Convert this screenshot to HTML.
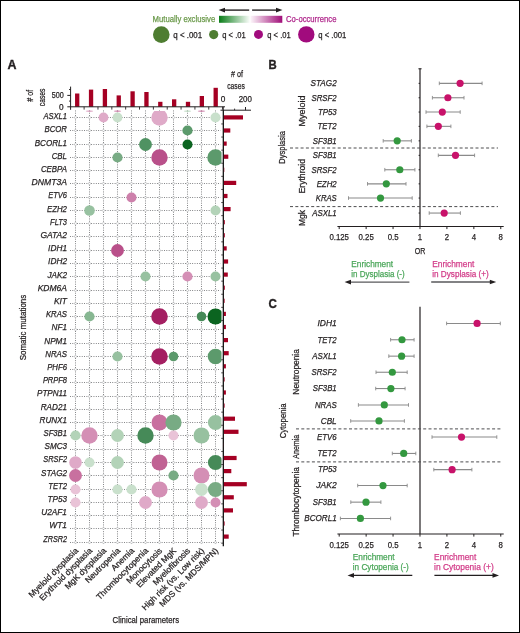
<!DOCTYPE html><html><head><meta charset="utf-8"><style>html,body{margin:0;padding:0;background:#fff;}svg{display:block;will-change:transform;}text{font-family:"Liberation Sans", sans-serif;}</style></head><body>
<svg width="520" height="633" viewBox="0 0 520 633">
<defs>
<linearGradient id="lgg" x1="0" x2="1" y1="0" y2="0"><stop offset="0" stop-color="#0a7d18"/><stop offset="1" stop-color="#fbfdfb"/></linearGradient>
<linearGradient id="lgm" x1="0" x2="1" y1="0" y2="0"><stop offset="0" stop-color="#fdf7fb"/><stop offset="1" stop-color="#a00d78"/></linearGradient>
<clipPath id="pc"><rect x="60" y="111.1" width="161.5" height="445"/></clipPath>
</defs>
<rect x="0" y="0" width="520" height="633" fill="#fff"/>
<line x1="223.5" y1="10.1" x2="249.2" y2="10.1" stroke="#231f20" stroke-width="1.4"/>
<path d="M218.6 10.1 L225 7.8 L225 12.4 Z" fill="#231f20"/>
<line x1="252.1" y1="10.1" x2="277.6" y2="10.1" stroke="#231f20" stroke-width="1.4"/>
<path d="M282.5 10.1 L276 7.8 L276 12.4 Z" fill="#231f20"/>
<rect x="219" y="15.8" width="30.9" height="7.0" fill="url(#lgg)"/>
<rect x="250.4" y="15.8" width="31.9" height="7.0" fill="url(#lgm)"/>
<text x="152.6" y="22.0" font-size="8.6" text-anchor="start" fill="#6b9a4b" font-weight="normal" textLength="62.6" lengthAdjust="spacingAndGlyphs" stroke="#6b9a4b" stroke-width="0.25">Mutually exclusive</text>
<text x="286.0" y="22.0" font-size="8.6" text-anchor="start" fill="#b0288c" font-weight="normal" textLength="50.4" lengthAdjust="spacingAndGlyphs" stroke="#b0288c" stroke-width="0.25">Co-occurrence</text>
<circle cx="161.3" cy="34.6" r="8.3" fill="#4e7d31"/>
<text x="173.3" y="37.6" font-size="9.0" text-anchor="start" fill="#231f20" font-weight="normal" textLength="28.8" lengthAdjust="spacingAndGlyphs" stroke="#231f20" stroke-width="0.25">q &lt; .001</text>
<circle cx="213.7" cy="34.6" r="4.6" fill="#4e7d31"/>
<text x="222.3" y="37.6" font-size="9.0" text-anchor="start" fill="#231f20" font-weight="normal" textLength="23.4" lengthAdjust="spacingAndGlyphs" stroke="#231f20" stroke-width="0.25">q &lt; .01</text>
<circle cx="258.5" cy="34.4" r="4.5" fill="#a10b7d"/>
<text x="267.3" y="37.6" font-size="9.0" text-anchor="start" fill="#231f20" font-weight="normal" textLength="23.4" lengthAdjust="spacingAndGlyphs" stroke="#231f20" stroke-width="0.25">q &lt; .01</text>
<circle cx="306.3" cy="34.4" r="8.2" fill="#a10b7d"/>
<text x="318.3" y="37.6" font-size="9.0" text-anchor="start" fill="#231f20" font-weight="normal" textLength="28.0" lengthAdjust="spacingAndGlyphs" stroke="#231f20" stroke-width="0.25">q &lt; .001</text>
<text x="7.4" y="68.7" font-size="12.6" text-anchor="start" fill="#231f20" font-weight="bold" textLength="9.0" lengthAdjust="spacingAndGlyphs" stroke="#231f20" stroke-width="0.35">A</text>
<line x1="70.0" y1="117.5" x2="220.6" y2="117.5" stroke="#68696b" stroke-width="0.9" stroke-dasharray="0.9 1.45"/>
<line x1="70.0" y1="130.5" x2="220.6" y2="130.5" stroke="#68696b" stroke-width="0.9" stroke-dasharray="0.9 1.45"/>
<line x1="70.0" y1="144.5" x2="220.6" y2="144.5" stroke="#68696b" stroke-width="0.9" stroke-dasharray="0.9 1.45"/>
<line x1="70.0" y1="157.5" x2="220.6" y2="157.5" stroke="#68696b" stroke-width="0.9" stroke-dasharray="0.9 1.45"/>
<line x1="70.0" y1="170.5" x2="220.6" y2="170.5" stroke="#68696b" stroke-width="0.9" stroke-dasharray="0.9 1.45"/>
<line x1="70.0" y1="183.5" x2="220.6" y2="183.5" stroke="#68696b" stroke-width="0.9" stroke-dasharray="0.9 1.45"/>
<line x1="70.0" y1="197.5" x2="220.6" y2="197.5" stroke="#68696b" stroke-width="0.9" stroke-dasharray="0.9 1.45"/>
<line x1="70.0" y1="210.5" x2="220.6" y2="210.5" stroke="#68696b" stroke-width="0.9" stroke-dasharray="0.9 1.45"/>
<line x1="70.0" y1="223.5" x2="220.6" y2="223.5" stroke="#68696b" stroke-width="0.9" stroke-dasharray="0.9 1.45"/>
<line x1="70.0" y1="236.5" x2="220.6" y2="236.5" stroke="#68696b" stroke-width="0.9" stroke-dasharray="0.9 1.45"/>
<line x1="70.0" y1="250.5" x2="220.6" y2="250.5" stroke="#68696b" stroke-width="0.9" stroke-dasharray="0.9 1.45"/>
<line x1="70.0" y1="263.5" x2="220.6" y2="263.5" stroke="#68696b" stroke-width="0.9" stroke-dasharray="0.9 1.45"/>
<line x1="70.0" y1="276.5" x2="220.6" y2="276.5" stroke="#68696b" stroke-width="0.9" stroke-dasharray="0.9 1.45"/>
<line x1="70.0" y1="290.5" x2="220.6" y2="290.5" stroke="#68696b" stroke-width="0.9" stroke-dasharray="0.9 1.45"/>
<line x1="70.0" y1="303.5" x2="220.6" y2="303.5" stroke="#68696b" stroke-width="0.9" stroke-dasharray="0.9 1.45"/>
<line x1="70.0" y1="316.5" x2="220.6" y2="316.5" stroke="#68696b" stroke-width="0.9" stroke-dasharray="0.9 1.45"/>
<line x1="70.0" y1="329.5" x2="220.6" y2="329.5" stroke="#68696b" stroke-width="0.9" stroke-dasharray="0.9 1.45"/>
<line x1="70.0" y1="343.5" x2="220.6" y2="343.5" stroke="#68696b" stroke-width="0.9" stroke-dasharray="0.9 1.45"/>
<line x1="70.0" y1="356.5" x2="220.6" y2="356.5" stroke="#68696b" stroke-width="0.9" stroke-dasharray="0.9 1.45"/>
<line x1="70.0" y1="369.5" x2="220.6" y2="369.5" stroke="#68696b" stroke-width="0.9" stroke-dasharray="0.9 1.45"/>
<line x1="70.0" y1="382.5" x2="220.6" y2="382.5" stroke="#68696b" stroke-width="0.9" stroke-dasharray="0.9 1.45"/>
<line x1="70.0" y1="396.5" x2="220.6" y2="396.5" stroke="#68696b" stroke-width="0.9" stroke-dasharray="0.9 1.45"/>
<line x1="70.0" y1="409.5" x2="220.6" y2="409.5" stroke="#68696b" stroke-width="0.9" stroke-dasharray="0.9 1.45"/>
<line x1="70.0" y1="422.5" x2="220.6" y2="422.5" stroke="#68696b" stroke-width="0.9" stroke-dasharray="0.9 1.45"/>
<line x1="70.0" y1="435.5" x2="220.6" y2="435.5" stroke="#68696b" stroke-width="0.9" stroke-dasharray="0.9 1.45"/>
<line x1="70.0" y1="449.5" x2="220.6" y2="449.5" stroke="#68696b" stroke-width="0.9" stroke-dasharray="0.9 1.45"/>
<line x1="70.0" y1="462.5" x2="220.6" y2="462.5" stroke="#68696b" stroke-width="0.9" stroke-dasharray="0.9 1.45"/>
<line x1="70.0" y1="475.5" x2="220.6" y2="475.5" stroke="#68696b" stroke-width="0.9" stroke-dasharray="0.9 1.45"/>
<line x1="70.0" y1="489.5" x2="220.6" y2="489.5" stroke="#68696b" stroke-width="0.9" stroke-dasharray="0.9 1.45"/>
<line x1="70.0" y1="502.5" x2="220.6" y2="502.5" stroke="#68696b" stroke-width="0.9" stroke-dasharray="0.9 1.45"/>
<line x1="70.0" y1="515.5" x2="220.6" y2="515.5" stroke="#68696b" stroke-width="0.9" stroke-dasharray="0.9 1.45"/>
<line x1="70.0" y1="528.5" x2="220.6" y2="528.5" stroke="#68696b" stroke-width="0.9" stroke-dasharray="0.9 1.45"/>
<line x1="70.0" y1="542.5" x2="220.6" y2="542.5" stroke="#68696b" stroke-width="0.9" stroke-dasharray="0.9 1.45"/>
<line x1="75.5" y1="110.5" x2="75.5" y2="544.2" stroke="#68696b" stroke-width="0.9" stroke-dasharray="0.9 1.35"/>
<line x1="89.5" y1="110.5" x2="89.5" y2="544.2" stroke="#68696b" stroke-width="0.9" stroke-dasharray="0.9 1.35"/>
<line x1="103.5" y1="110.5" x2="103.5" y2="544.2" stroke="#68696b" stroke-width="0.9" stroke-dasharray="0.9 1.35"/>
<line x1="117.5" y1="110.5" x2="117.5" y2="544.2" stroke="#68696b" stroke-width="0.9" stroke-dasharray="0.9 1.35"/>
<line x1="131.5" y1="110.5" x2="131.5" y2="544.2" stroke="#68696b" stroke-width="0.9" stroke-dasharray="0.9 1.35"/>
<line x1="145.5" y1="110.5" x2="145.5" y2="544.2" stroke="#68696b" stroke-width="0.9" stroke-dasharray="0.9 1.35"/>
<line x1="159.5" y1="110.5" x2="159.5" y2="544.2" stroke="#68696b" stroke-width="0.9" stroke-dasharray="0.9 1.35"/>
<line x1="173.5" y1="110.5" x2="173.5" y2="544.2" stroke="#68696b" stroke-width="0.9" stroke-dasharray="0.9 1.35"/>
<line x1="187.5" y1="110.5" x2="187.5" y2="544.2" stroke="#68696b" stroke-width="0.9" stroke-dasharray="0.9 1.35"/>
<line x1="201.5" y1="110.5" x2="201.5" y2="544.2" stroke="#68696b" stroke-width="0.9" stroke-dasharray="0.9 1.35"/>
<line x1="215.5" y1="110.5" x2="215.5" y2="544.2" stroke="#68696b" stroke-width="0.9" stroke-dasharray="0.9 1.35"/>
<circle cx="75.50" cy="117.50" r="1.05" fill="#fff" stroke="#939598" stroke-width="0.4"/>
<circle cx="89.50" cy="117.50" r="1.05" fill="#fff" stroke="#939598" stroke-width="0.4"/>
<circle cx="103.50" cy="117.50" r="1.05" fill="#fff" stroke="#939598" stroke-width="0.4"/>
<circle cx="117.50" cy="117.50" r="1.05" fill="#fff" stroke="#939598" stroke-width="0.4"/>
<circle cx="131.50" cy="117.50" r="1.05" fill="#fff" stroke="#939598" stroke-width="0.4"/>
<circle cx="145.50" cy="117.50" r="1.05" fill="#fff" stroke="#939598" stroke-width="0.4"/>
<circle cx="159.50" cy="117.50" r="1.05" fill="#fff" stroke="#939598" stroke-width="0.4"/>
<circle cx="173.50" cy="117.50" r="1.05" fill="#fff" stroke="#939598" stroke-width="0.4"/>
<circle cx="187.50" cy="117.50" r="1.05" fill="#fff" stroke="#939598" stroke-width="0.4"/>
<circle cx="201.50" cy="117.50" r="1.05" fill="#fff" stroke="#939598" stroke-width="0.4"/>
<circle cx="215.50" cy="117.50" r="1.05" fill="#fff" stroke="#939598" stroke-width="0.4"/>
<circle cx="75.50" cy="130.50" r="1.05" fill="#fff" stroke="#939598" stroke-width="0.4"/>
<circle cx="89.50" cy="130.50" r="1.05" fill="#fff" stroke="#939598" stroke-width="0.4"/>
<circle cx="103.50" cy="130.50" r="1.05" fill="#fff" stroke="#939598" stroke-width="0.4"/>
<circle cx="117.50" cy="130.50" r="1.05" fill="#fff" stroke="#939598" stroke-width="0.4"/>
<circle cx="131.50" cy="130.50" r="1.05" fill="#fff" stroke="#939598" stroke-width="0.4"/>
<circle cx="145.50" cy="130.50" r="1.05" fill="#fff" stroke="#939598" stroke-width="0.4"/>
<circle cx="159.50" cy="130.50" r="1.05" fill="#fff" stroke="#939598" stroke-width="0.4"/>
<circle cx="173.50" cy="130.50" r="1.05" fill="#fff" stroke="#939598" stroke-width="0.4"/>
<circle cx="187.50" cy="130.50" r="1.05" fill="#fff" stroke="#939598" stroke-width="0.4"/>
<circle cx="201.50" cy="130.50" r="1.05" fill="#fff" stroke="#939598" stroke-width="0.4"/>
<circle cx="215.50" cy="130.50" r="1.05" fill="#fff" stroke="#939598" stroke-width="0.4"/>
<circle cx="75.50" cy="144.50" r="1.05" fill="#fff" stroke="#939598" stroke-width="0.4"/>
<circle cx="89.50" cy="144.50" r="1.05" fill="#fff" stroke="#939598" stroke-width="0.4"/>
<circle cx="103.50" cy="144.50" r="1.05" fill="#fff" stroke="#939598" stroke-width="0.4"/>
<circle cx="117.50" cy="144.50" r="1.05" fill="#fff" stroke="#939598" stroke-width="0.4"/>
<circle cx="131.50" cy="144.50" r="1.05" fill="#fff" stroke="#939598" stroke-width="0.4"/>
<circle cx="145.50" cy="144.50" r="1.05" fill="#fff" stroke="#939598" stroke-width="0.4"/>
<circle cx="159.50" cy="144.50" r="1.05" fill="#fff" stroke="#939598" stroke-width="0.4"/>
<circle cx="173.50" cy="144.50" r="1.05" fill="#fff" stroke="#939598" stroke-width="0.4"/>
<circle cx="187.50" cy="144.50" r="1.05" fill="#fff" stroke="#939598" stroke-width="0.4"/>
<circle cx="201.50" cy="144.50" r="1.05" fill="#fff" stroke="#939598" stroke-width="0.4"/>
<circle cx="215.50" cy="144.50" r="1.05" fill="#fff" stroke="#939598" stroke-width="0.4"/>
<circle cx="75.50" cy="157.50" r="1.05" fill="#fff" stroke="#939598" stroke-width="0.4"/>
<circle cx="89.50" cy="157.50" r="1.05" fill="#fff" stroke="#939598" stroke-width="0.4"/>
<circle cx="103.50" cy="157.50" r="1.05" fill="#fff" stroke="#939598" stroke-width="0.4"/>
<circle cx="117.50" cy="157.50" r="1.05" fill="#fff" stroke="#939598" stroke-width="0.4"/>
<circle cx="131.50" cy="157.50" r="1.05" fill="#fff" stroke="#939598" stroke-width="0.4"/>
<circle cx="145.50" cy="157.50" r="1.05" fill="#fff" stroke="#939598" stroke-width="0.4"/>
<circle cx="159.50" cy="157.50" r="1.05" fill="#fff" stroke="#939598" stroke-width="0.4"/>
<circle cx="173.50" cy="157.50" r="1.05" fill="#fff" stroke="#939598" stroke-width="0.4"/>
<circle cx="187.50" cy="157.50" r="1.05" fill="#fff" stroke="#939598" stroke-width="0.4"/>
<circle cx="201.50" cy="157.50" r="1.05" fill="#fff" stroke="#939598" stroke-width="0.4"/>
<circle cx="215.50" cy="157.50" r="1.05" fill="#fff" stroke="#939598" stroke-width="0.4"/>
<circle cx="75.50" cy="170.50" r="1.05" fill="#fff" stroke="#939598" stroke-width="0.4"/>
<circle cx="89.50" cy="170.50" r="1.05" fill="#fff" stroke="#939598" stroke-width="0.4"/>
<circle cx="103.50" cy="170.50" r="1.05" fill="#fff" stroke="#939598" stroke-width="0.4"/>
<circle cx="117.50" cy="170.50" r="1.05" fill="#fff" stroke="#939598" stroke-width="0.4"/>
<circle cx="131.50" cy="170.50" r="1.05" fill="#fff" stroke="#939598" stroke-width="0.4"/>
<circle cx="145.50" cy="170.50" r="1.05" fill="#fff" stroke="#939598" stroke-width="0.4"/>
<circle cx="159.50" cy="170.50" r="1.05" fill="#fff" stroke="#939598" stroke-width="0.4"/>
<circle cx="173.50" cy="170.50" r="1.05" fill="#fff" stroke="#939598" stroke-width="0.4"/>
<circle cx="187.50" cy="170.50" r="1.05" fill="#fff" stroke="#939598" stroke-width="0.4"/>
<circle cx="201.50" cy="170.50" r="1.05" fill="#fff" stroke="#939598" stroke-width="0.4"/>
<circle cx="215.50" cy="170.50" r="1.05" fill="#fff" stroke="#939598" stroke-width="0.4"/>
<circle cx="75.50" cy="183.50" r="1.05" fill="#fff" stroke="#939598" stroke-width="0.4"/>
<circle cx="89.50" cy="183.50" r="1.05" fill="#fff" stroke="#939598" stroke-width="0.4"/>
<circle cx="103.50" cy="183.50" r="1.05" fill="#fff" stroke="#939598" stroke-width="0.4"/>
<circle cx="117.50" cy="183.50" r="1.05" fill="#fff" stroke="#939598" stroke-width="0.4"/>
<circle cx="131.50" cy="183.50" r="1.05" fill="#fff" stroke="#939598" stroke-width="0.4"/>
<circle cx="145.50" cy="183.50" r="1.05" fill="#fff" stroke="#939598" stroke-width="0.4"/>
<circle cx="159.50" cy="183.50" r="1.05" fill="#fff" stroke="#939598" stroke-width="0.4"/>
<circle cx="173.50" cy="183.50" r="1.05" fill="#fff" stroke="#939598" stroke-width="0.4"/>
<circle cx="187.50" cy="183.50" r="1.05" fill="#fff" stroke="#939598" stroke-width="0.4"/>
<circle cx="201.50" cy="183.50" r="1.05" fill="#fff" stroke="#939598" stroke-width="0.4"/>
<circle cx="215.50" cy="183.50" r="1.05" fill="#fff" stroke="#939598" stroke-width="0.4"/>
<circle cx="75.50" cy="197.50" r="1.05" fill="#fff" stroke="#939598" stroke-width="0.4"/>
<circle cx="89.50" cy="197.50" r="1.05" fill="#fff" stroke="#939598" stroke-width="0.4"/>
<circle cx="103.50" cy="197.50" r="1.05" fill="#fff" stroke="#939598" stroke-width="0.4"/>
<circle cx="117.50" cy="197.50" r="1.05" fill="#fff" stroke="#939598" stroke-width="0.4"/>
<circle cx="131.50" cy="197.50" r="1.05" fill="#fff" stroke="#939598" stroke-width="0.4"/>
<circle cx="145.50" cy="197.50" r="1.05" fill="#fff" stroke="#939598" stroke-width="0.4"/>
<circle cx="159.50" cy="197.50" r="1.05" fill="#fff" stroke="#939598" stroke-width="0.4"/>
<circle cx="173.50" cy="197.50" r="1.05" fill="#fff" stroke="#939598" stroke-width="0.4"/>
<circle cx="187.50" cy="197.50" r="1.05" fill="#fff" stroke="#939598" stroke-width="0.4"/>
<circle cx="201.50" cy="197.50" r="1.05" fill="#fff" stroke="#939598" stroke-width="0.4"/>
<circle cx="215.50" cy="197.50" r="1.05" fill="#fff" stroke="#939598" stroke-width="0.4"/>
<circle cx="75.50" cy="210.50" r="1.05" fill="#fff" stroke="#939598" stroke-width="0.4"/>
<circle cx="89.50" cy="210.50" r="1.05" fill="#fff" stroke="#939598" stroke-width="0.4"/>
<circle cx="103.50" cy="210.50" r="1.05" fill="#fff" stroke="#939598" stroke-width="0.4"/>
<circle cx="117.50" cy="210.50" r="1.05" fill="#fff" stroke="#939598" stroke-width="0.4"/>
<circle cx="131.50" cy="210.50" r="1.05" fill="#fff" stroke="#939598" stroke-width="0.4"/>
<circle cx="145.50" cy="210.50" r="1.05" fill="#fff" stroke="#939598" stroke-width="0.4"/>
<circle cx="159.50" cy="210.50" r="1.05" fill="#fff" stroke="#939598" stroke-width="0.4"/>
<circle cx="173.50" cy="210.50" r="1.05" fill="#fff" stroke="#939598" stroke-width="0.4"/>
<circle cx="187.50" cy="210.50" r="1.05" fill="#fff" stroke="#939598" stroke-width="0.4"/>
<circle cx="201.50" cy="210.50" r="1.05" fill="#fff" stroke="#939598" stroke-width="0.4"/>
<circle cx="215.50" cy="210.50" r="1.05" fill="#fff" stroke="#939598" stroke-width="0.4"/>
<circle cx="75.50" cy="223.50" r="1.05" fill="#fff" stroke="#939598" stroke-width="0.4"/>
<circle cx="89.50" cy="223.50" r="1.05" fill="#fff" stroke="#939598" stroke-width="0.4"/>
<circle cx="103.50" cy="223.50" r="1.05" fill="#fff" stroke="#939598" stroke-width="0.4"/>
<circle cx="117.50" cy="223.50" r="1.05" fill="#fff" stroke="#939598" stroke-width="0.4"/>
<circle cx="131.50" cy="223.50" r="1.05" fill="#fff" stroke="#939598" stroke-width="0.4"/>
<circle cx="145.50" cy="223.50" r="1.05" fill="#fff" stroke="#939598" stroke-width="0.4"/>
<circle cx="159.50" cy="223.50" r="1.05" fill="#fff" stroke="#939598" stroke-width="0.4"/>
<circle cx="173.50" cy="223.50" r="1.05" fill="#fff" stroke="#939598" stroke-width="0.4"/>
<circle cx="187.50" cy="223.50" r="1.05" fill="#fff" stroke="#939598" stroke-width="0.4"/>
<circle cx="201.50" cy="223.50" r="1.05" fill="#fff" stroke="#939598" stroke-width="0.4"/>
<circle cx="215.50" cy="223.50" r="1.05" fill="#fff" stroke="#939598" stroke-width="0.4"/>
<circle cx="75.50" cy="236.50" r="1.05" fill="#fff" stroke="#939598" stroke-width="0.4"/>
<circle cx="89.50" cy="236.50" r="1.05" fill="#fff" stroke="#939598" stroke-width="0.4"/>
<circle cx="103.50" cy="236.50" r="1.05" fill="#fff" stroke="#939598" stroke-width="0.4"/>
<circle cx="117.50" cy="236.50" r="1.05" fill="#fff" stroke="#939598" stroke-width="0.4"/>
<circle cx="131.50" cy="236.50" r="1.05" fill="#fff" stroke="#939598" stroke-width="0.4"/>
<circle cx="145.50" cy="236.50" r="1.05" fill="#fff" stroke="#939598" stroke-width="0.4"/>
<circle cx="159.50" cy="236.50" r="1.05" fill="#fff" stroke="#939598" stroke-width="0.4"/>
<circle cx="173.50" cy="236.50" r="1.05" fill="#fff" stroke="#939598" stroke-width="0.4"/>
<circle cx="187.50" cy="236.50" r="1.05" fill="#fff" stroke="#939598" stroke-width="0.4"/>
<circle cx="201.50" cy="236.50" r="1.05" fill="#fff" stroke="#939598" stroke-width="0.4"/>
<circle cx="215.50" cy="236.50" r="1.05" fill="#fff" stroke="#939598" stroke-width="0.4"/>
<circle cx="75.50" cy="250.50" r="1.05" fill="#fff" stroke="#939598" stroke-width="0.4"/>
<circle cx="89.50" cy="250.50" r="1.05" fill="#fff" stroke="#939598" stroke-width="0.4"/>
<circle cx="103.50" cy="250.50" r="1.05" fill="#fff" stroke="#939598" stroke-width="0.4"/>
<circle cx="117.50" cy="250.50" r="1.05" fill="#fff" stroke="#939598" stroke-width="0.4"/>
<circle cx="131.50" cy="250.50" r="1.05" fill="#fff" stroke="#939598" stroke-width="0.4"/>
<circle cx="145.50" cy="250.50" r="1.05" fill="#fff" stroke="#939598" stroke-width="0.4"/>
<circle cx="159.50" cy="250.50" r="1.05" fill="#fff" stroke="#939598" stroke-width="0.4"/>
<circle cx="173.50" cy="250.50" r="1.05" fill="#fff" stroke="#939598" stroke-width="0.4"/>
<circle cx="187.50" cy="250.50" r="1.05" fill="#fff" stroke="#939598" stroke-width="0.4"/>
<circle cx="201.50" cy="250.50" r="1.05" fill="#fff" stroke="#939598" stroke-width="0.4"/>
<circle cx="215.50" cy="250.50" r="1.05" fill="#fff" stroke="#939598" stroke-width="0.4"/>
<circle cx="75.50" cy="263.50" r="1.05" fill="#fff" stroke="#939598" stroke-width="0.4"/>
<circle cx="89.50" cy="263.50" r="1.05" fill="#fff" stroke="#939598" stroke-width="0.4"/>
<circle cx="103.50" cy="263.50" r="1.05" fill="#fff" stroke="#939598" stroke-width="0.4"/>
<circle cx="117.50" cy="263.50" r="1.05" fill="#fff" stroke="#939598" stroke-width="0.4"/>
<circle cx="131.50" cy="263.50" r="1.05" fill="#fff" stroke="#939598" stroke-width="0.4"/>
<circle cx="145.50" cy="263.50" r="1.05" fill="#fff" stroke="#939598" stroke-width="0.4"/>
<circle cx="159.50" cy="263.50" r="1.05" fill="#fff" stroke="#939598" stroke-width="0.4"/>
<circle cx="173.50" cy="263.50" r="1.05" fill="#fff" stroke="#939598" stroke-width="0.4"/>
<circle cx="187.50" cy="263.50" r="1.05" fill="#fff" stroke="#939598" stroke-width="0.4"/>
<circle cx="201.50" cy="263.50" r="1.05" fill="#fff" stroke="#939598" stroke-width="0.4"/>
<circle cx="215.50" cy="263.50" r="1.05" fill="#fff" stroke="#939598" stroke-width="0.4"/>
<circle cx="75.50" cy="276.50" r="1.05" fill="#fff" stroke="#939598" stroke-width="0.4"/>
<circle cx="89.50" cy="276.50" r="1.05" fill="#fff" stroke="#939598" stroke-width="0.4"/>
<circle cx="103.50" cy="276.50" r="1.05" fill="#fff" stroke="#939598" stroke-width="0.4"/>
<circle cx="117.50" cy="276.50" r="1.05" fill="#fff" stroke="#939598" stroke-width="0.4"/>
<circle cx="131.50" cy="276.50" r="1.05" fill="#fff" stroke="#939598" stroke-width="0.4"/>
<circle cx="145.50" cy="276.50" r="1.05" fill="#fff" stroke="#939598" stroke-width="0.4"/>
<circle cx="159.50" cy="276.50" r="1.05" fill="#fff" stroke="#939598" stroke-width="0.4"/>
<circle cx="173.50" cy="276.50" r="1.05" fill="#fff" stroke="#939598" stroke-width="0.4"/>
<circle cx="187.50" cy="276.50" r="1.05" fill="#fff" stroke="#939598" stroke-width="0.4"/>
<circle cx="201.50" cy="276.50" r="1.05" fill="#fff" stroke="#939598" stroke-width="0.4"/>
<circle cx="215.50" cy="276.50" r="1.05" fill="#fff" stroke="#939598" stroke-width="0.4"/>
<circle cx="75.50" cy="290.50" r="1.05" fill="#fff" stroke="#939598" stroke-width="0.4"/>
<circle cx="89.50" cy="290.50" r="1.05" fill="#fff" stroke="#939598" stroke-width="0.4"/>
<circle cx="103.50" cy="290.50" r="1.05" fill="#fff" stroke="#939598" stroke-width="0.4"/>
<circle cx="117.50" cy="290.50" r="1.05" fill="#fff" stroke="#939598" stroke-width="0.4"/>
<circle cx="131.50" cy="290.50" r="1.05" fill="#fff" stroke="#939598" stroke-width="0.4"/>
<circle cx="145.50" cy="290.50" r="1.05" fill="#fff" stroke="#939598" stroke-width="0.4"/>
<circle cx="159.50" cy="290.50" r="1.05" fill="#fff" stroke="#939598" stroke-width="0.4"/>
<circle cx="173.50" cy="290.50" r="1.05" fill="#fff" stroke="#939598" stroke-width="0.4"/>
<circle cx="187.50" cy="290.50" r="1.05" fill="#fff" stroke="#939598" stroke-width="0.4"/>
<circle cx="201.50" cy="290.50" r="1.05" fill="#fff" stroke="#939598" stroke-width="0.4"/>
<circle cx="215.50" cy="290.50" r="1.05" fill="#fff" stroke="#939598" stroke-width="0.4"/>
<circle cx="75.50" cy="303.50" r="1.05" fill="#fff" stroke="#939598" stroke-width="0.4"/>
<circle cx="89.50" cy="303.50" r="1.05" fill="#fff" stroke="#939598" stroke-width="0.4"/>
<circle cx="103.50" cy="303.50" r="1.05" fill="#fff" stroke="#939598" stroke-width="0.4"/>
<circle cx="117.50" cy="303.50" r="1.05" fill="#fff" stroke="#939598" stroke-width="0.4"/>
<circle cx="131.50" cy="303.50" r="1.05" fill="#fff" stroke="#939598" stroke-width="0.4"/>
<circle cx="145.50" cy="303.50" r="1.05" fill="#fff" stroke="#939598" stroke-width="0.4"/>
<circle cx="159.50" cy="303.50" r="1.05" fill="#fff" stroke="#939598" stroke-width="0.4"/>
<circle cx="173.50" cy="303.50" r="1.05" fill="#fff" stroke="#939598" stroke-width="0.4"/>
<circle cx="187.50" cy="303.50" r="1.05" fill="#fff" stroke="#939598" stroke-width="0.4"/>
<circle cx="201.50" cy="303.50" r="1.05" fill="#fff" stroke="#939598" stroke-width="0.4"/>
<circle cx="215.50" cy="303.50" r="1.05" fill="#fff" stroke="#939598" stroke-width="0.4"/>
<circle cx="75.50" cy="316.50" r="1.05" fill="#fff" stroke="#939598" stroke-width="0.4"/>
<circle cx="89.50" cy="316.50" r="1.05" fill="#fff" stroke="#939598" stroke-width="0.4"/>
<circle cx="103.50" cy="316.50" r="1.05" fill="#fff" stroke="#939598" stroke-width="0.4"/>
<circle cx="117.50" cy="316.50" r="1.05" fill="#fff" stroke="#939598" stroke-width="0.4"/>
<circle cx="131.50" cy="316.50" r="1.05" fill="#fff" stroke="#939598" stroke-width="0.4"/>
<circle cx="145.50" cy="316.50" r="1.05" fill="#fff" stroke="#939598" stroke-width="0.4"/>
<circle cx="159.50" cy="316.50" r="1.05" fill="#fff" stroke="#939598" stroke-width="0.4"/>
<circle cx="173.50" cy="316.50" r="1.05" fill="#fff" stroke="#939598" stroke-width="0.4"/>
<circle cx="187.50" cy="316.50" r="1.05" fill="#fff" stroke="#939598" stroke-width="0.4"/>
<circle cx="201.50" cy="316.50" r="1.05" fill="#fff" stroke="#939598" stroke-width="0.4"/>
<circle cx="215.50" cy="316.50" r="1.05" fill="#fff" stroke="#939598" stroke-width="0.4"/>
<circle cx="75.50" cy="329.50" r="1.05" fill="#fff" stroke="#939598" stroke-width="0.4"/>
<circle cx="89.50" cy="329.50" r="1.05" fill="#fff" stroke="#939598" stroke-width="0.4"/>
<circle cx="103.50" cy="329.50" r="1.05" fill="#fff" stroke="#939598" stroke-width="0.4"/>
<circle cx="117.50" cy="329.50" r="1.05" fill="#fff" stroke="#939598" stroke-width="0.4"/>
<circle cx="131.50" cy="329.50" r="1.05" fill="#fff" stroke="#939598" stroke-width="0.4"/>
<circle cx="145.50" cy="329.50" r="1.05" fill="#fff" stroke="#939598" stroke-width="0.4"/>
<circle cx="159.50" cy="329.50" r="1.05" fill="#fff" stroke="#939598" stroke-width="0.4"/>
<circle cx="173.50" cy="329.50" r="1.05" fill="#fff" stroke="#939598" stroke-width="0.4"/>
<circle cx="187.50" cy="329.50" r="1.05" fill="#fff" stroke="#939598" stroke-width="0.4"/>
<circle cx="201.50" cy="329.50" r="1.05" fill="#fff" stroke="#939598" stroke-width="0.4"/>
<circle cx="215.50" cy="329.50" r="1.05" fill="#fff" stroke="#939598" stroke-width="0.4"/>
<circle cx="75.50" cy="343.50" r="1.05" fill="#fff" stroke="#939598" stroke-width="0.4"/>
<circle cx="89.50" cy="343.50" r="1.05" fill="#fff" stroke="#939598" stroke-width="0.4"/>
<circle cx="103.50" cy="343.50" r="1.05" fill="#fff" stroke="#939598" stroke-width="0.4"/>
<circle cx="117.50" cy="343.50" r="1.05" fill="#fff" stroke="#939598" stroke-width="0.4"/>
<circle cx="131.50" cy="343.50" r="1.05" fill="#fff" stroke="#939598" stroke-width="0.4"/>
<circle cx="145.50" cy="343.50" r="1.05" fill="#fff" stroke="#939598" stroke-width="0.4"/>
<circle cx="159.50" cy="343.50" r="1.05" fill="#fff" stroke="#939598" stroke-width="0.4"/>
<circle cx="173.50" cy="343.50" r="1.05" fill="#fff" stroke="#939598" stroke-width="0.4"/>
<circle cx="187.50" cy="343.50" r="1.05" fill="#fff" stroke="#939598" stroke-width="0.4"/>
<circle cx="201.50" cy="343.50" r="1.05" fill="#fff" stroke="#939598" stroke-width="0.4"/>
<circle cx="215.50" cy="343.50" r="1.05" fill="#fff" stroke="#939598" stroke-width="0.4"/>
<circle cx="75.50" cy="356.50" r="1.05" fill="#fff" stroke="#939598" stroke-width="0.4"/>
<circle cx="89.50" cy="356.50" r="1.05" fill="#fff" stroke="#939598" stroke-width="0.4"/>
<circle cx="103.50" cy="356.50" r="1.05" fill="#fff" stroke="#939598" stroke-width="0.4"/>
<circle cx="117.50" cy="356.50" r="1.05" fill="#fff" stroke="#939598" stroke-width="0.4"/>
<circle cx="131.50" cy="356.50" r="1.05" fill="#fff" stroke="#939598" stroke-width="0.4"/>
<circle cx="145.50" cy="356.50" r="1.05" fill="#fff" stroke="#939598" stroke-width="0.4"/>
<circle cx="159.50" cy="356.50" r="1.05" fill="#fff" stroke="#939598" stroke-width="0.4"/>
<circle cx="173.50" cy="356.50" r="1.05" fill="#fff" stroke="#939598" stroke-width="0.4"/>
<circle cx="187.50" cy="356.50" r="1.05" fill="#fff" stroke="#939598" stroke-width="0.4"/>
<circle cx="201.50" cy="356.50" r="1.05" fill="#fff" stroke="#939598" stroke-width="0.4"/>
<circle cx="215.50" cy="356.50" r="1.05" fill="#fff" stroke="#939598" stroke-width="0.4"/>
<circle cx="75.50" cy="369.50" r="1.05" fill="#fff" stroke="#939598" stroke-width="0.4"/>
<circle cx="89.50" cy="369.50" r="1.05" fill="#fff" stroke="#939598" stroke-width="0.4"/>
<circle cx="103.50" cy="369.50" r="1.05" fill="#fff" stroke="#939598" stroke-width="0.4"/>
<circle cx="117.50" cy="369.50" r="1.05" fill="#fff" stroke="#939598" stroke-width="0.4"/>
<circle cx="131.50" cy="369.50" r="1.05" fill="#fff" stroke="#939598" stroke-width="0.4"/>
<circle cx="145.50" cy="369.50" r="1.05" fill="#fff" stroke="#939598" stroke-width="0.4"/>
<circle cx="159.50" cy="369.50" r="1.05" fill="#fff" stroke="#939598" stroke-width="0.4"/>
<circle cx="173.50" cy="369.50" r="1.05" fill="#fff" stroke="#939598" stroke-width="0.4"/>
<circle cx="187.50" cy="369.50" r="1.05" fill="#fff" stroke="#939598" stroke-width="0.4"/>
<circle cx="201.50" cy="369.50" r="1.05" fill="#fff" stroke="#939598" stroke-width="0.4"/>
<circle cx="215.50" cy="369.50" r="1.05" fill="#fff" stroke="#939598" stroke-width="0.4"/>
<circle cx="75.50" cy="382.50" r="1.05" fill="#fff" stroke="#939598" stroke-width="0.4"/>
<circle cx="89.50" cy="382.50" r="1.05" fill="#fff" stroke="#939598" stroke-width="0.4"/>
<circle cx="103.50" cy="382.50" r="1.05" fill="#fff" stroke="#939598" stroke-width="0.4"/>
<circle cx="117.50" cy="382.50" r="1.05" fill="#fff" stroke="#939598" stroke-width="0.4"/>
<circle cx="131.50" cy="382.50" r="1.05" fill="#fff" stroke="#939598" stroke-width="0.4"/>
<circle cx="145.50" cy="382.50" r="1.05" fill="#fff" stroke="#939598" stroke-width="0.4"/>
<circle cx="159.50" cy="382.50" r="1.05" fill="#fff" stroke="#939598" stroke-width="0.4"/>
<circle cx="173.50" cy="382.50" r="1.05" fill="#fff" stroke="#939598" stroke-width="0.4"/>
<circle cx="187.50" cy="382.50" r="1.05" fill="#fff" stroke="#939598" stroke-width="0.4"/>
<circle cx="201.50" cy="382.50" r="1.05" fill="#fff" stroke="#939598" stroke-width="0.4"/>
<circle cx="215.50" cy="382.50" r="1.05" fill="#fff" stroke="#939598" stroke-width="0.4"/>
<circle cx="75.50" cy="396.50" r="1.05" fill="#fff" stroke="#939598" stroke-width="0.4"/>
<circle cx="89.50" cy="396.50" r="1.05" fill="#fff" stroke="#939598" stroke-width="0.4"/>
<circle cx="103.50" cy="396.50" r="1.05" fill="#fff" stroke="#939598" stroke-width="0.4"/>
<circle cx="117.50" cy="396.50" r="1.05" fill="#fff" stroke="#939598" stroke-width="0.4"/>
<circle cx="131.50" cy="396.50" r="1.05" fill="#fff" stroke="#939598" stroke-width="0.4"/>
<circle cx="145.50" cy="396.50" r="1.05" fill="#fff" stroke="#939598" stroke-width="0.4"/>
<circle cx="159.50" cy="396.50" r="1.05" fill="#fff" stroke="#939598" stroke-width="0.4"/>
<circle cx="173.50" cy="396.50" r="1.05" fill="#fff" stroke="#939598" stroke-width="0.4"/>
<circle cx="187.50" cy="396.50" r="1.05" fill="#fff" stroke="#939598" stroke-width="0.4"/>
<circle cx="201.50" cy="396.50" r="1.05" fill="#fff" stroke="#939598" stroke-width="0.4"/>
<circle cx="215.50" cy="396.50" r="1.05" fill="#fff" stroke="#939598" stroke-width="0.4"/>
<circle cx="75.50" cy="409.50" r="1.05" fill="#fff" stroke="#939598" stroke-width="0.4"/>
<circle cx="89.50" cy="409.50" r="1.05" fill="#fff" stroke="#939598" stroke-width="0.4"/>
<circle cx="103.50" cy="409.50" r="1.05" fill="#fff" stroke="#939598" stroke-width="0.4"/>
<circle cx="117.50" cy="409.50" r="1.05" fill="#fff" stroke="#939598" stroke-width="0.4"/>
<circle cx="131.50" cy="409.50" r="1.05" fill="#fff" stroke="#939598" stroke-width="0.4"/>
<circle cx="145.50" cy="409.50" r="1.05" fill="#fff" stroke="#939598" stroke-width="0.4"/>
<circle cx="159.50" cy="409.50" r="1.05" fill="#fff" stroke="#939598" stroke-width="0.4"/>
<circle cx="173.50" cy="409.50" r="1.05" fill="#fff" stroke="#939598" stroke-width="0.4"/>
<circle cx="187.50" cy="409.50" r="1.05" fill="#fff" stroke="#939598" stroke-width="0.4"/>
<circle cx="201.50" cy="409.50" r="1.05" fill="#fff" stroke="#939598" stroke-width="0.4"/>
<circle cx="215.50" cy="409.50" r="1.05" fill="#fff" stroke="#939598" stroke-width="0.4"/>
<circle cx="75.50" cy="422.50" r="1.05" fill="#fff" stroke="#939598" stroke-width="0.4"/>
<circle cx="89.50" cy="422.50" r="1.05" fill="#fff" stroke="#939598" stroke-width="0.4"/>
<circle cx="103.50" cy="422.50" r="1.05" fill="#fff" stroke="#939598" stroke-width="0.4"/>
<circle cx="117.50" cy="422.50" r="1.05" fill="#fff" stroke="#939598" stroke-width="0.4"/>
<circle cx="131.50" cy="422.50" r="1.05" fill="#fff" stroke="#939598" stroke-width="0.4"/>
<circle cx="145.50" cy="422.50" r="1.05" fill="#fff" stroke="#939598" stroke-width="0.4"/>
<circle cx="159.50" cy="422.50" r="1.05" fill="#fff" stroke="#939598" stroke-width="0.4"/>
<circle cx="173.50" cy="422.50" r="1.05" fill="#fff" stroke="#939598" stroke-width="0.4"/>
<circle cx="187.50" cy="422.50" r="1.05" fill="#fff" stroke="#939598" stroke-width="0.4"/>
<circle cx="201.50" cy="422.50" r="1.05" fill="#fff" stroke="#939598" stroke-width="0.4"/>
<circle cx="215.50" cy="422.50" r="1.05" fill="#fff" stroke="#939598" stroke-width="0.4"/>
<circle cx="75.50" cy="435.50" r="1.05" fill="#fff" stroke="#939598" stroke-width="0.4"/>
<circle cx="89.50" cy="435.50" r="1.05" fill="#fff" stroke="#939598" stroke-width="0.4"/>
<circle cx="103.50" cy="435.50" r="1.05" fill="#fff" stroke="#939598" stroke-width="0.4"/>
<circle cx="117.50" cy="435.50" r="1.05" fill="#fff" stroke="#939598" stroke-width="0.4"/>
<circle cx="131.50" cy="435.50" r="1.05" fill="#fff" stroke="#939598" stroke-width="0.4"/>
<circle cx="145.50" cy="435.50" r="1.05" fill="#fff" stroke="#939598" stroke-width="0.4"/>
<circle cx="159.50" cy="435.50" r="1.05" fill="#fff" stroke="#939598" stroke-width="0.4"/>
<circle cx="173.50" cy="435.50" r="1.05" fill="#fff" stroke="#939598" stroke-width="0.4"/>
<circle cx="187.50" cy="435.50" r="1.05" fill="#fff" stroke="#939598" stroke-width="0.4"/>
<circle cx="201.50" cy="435.50" r="1.05" fill="#fff" stroke="#939598" stroke-width="0.4"/>
<circle cx="215.50" cy="435.50" r="1.05" fill="#fff" stroke="#939598" stroke-width="0.4"/>
<circle cx="75.50" cy="449.50" r="1.05" fill="#fff" stroke="#939598" stroke-width="0.4"/>
<circle cx="89.50" cy="449.50" r="1.05" fill="#fff" stroke="#939598" stroke-width="0.4"/>
<circle cx="103.50" cy="449.50" r="1.05" fill="#fff" stroke="#939598" stroke-width="0.4"/>
<circle cx="117.50" cy="449.50" r="1.05" fill="#fff" stroke="#939598" stroke-width="0.4"/>
<circle cx="131.50" cy="449.50" r="1.05" fill="#fff" stroke="#939598" stroke-width="0.4"/>
<circle cx="145.50" cy="449.50" r="1.05" fill="#fff" stroke="#939598" stroke-width="0.4"/>
<circle cx="159.50" cy="449.50" r="1.05" fill="#fff" stroke="#939598" stroke-width="0.4"/>
<circle cx="173.50" cy="449.50" r="1.05" fill="#fff" stroke="#939598" stroke-width="0.4"/>
<circle cx="187.50" cy="449.50" r="1.05" fill="#fff" stroke="#939598" stroke-width="0.4"/>
<circle cx="201.50" cy="449.50" r="1.05" fill="#fff" stroke="#939598" stroke-width="0.4"/>
<circle cx="215.50" cy="449.50" r="1.05" fill="#fff" stroke="#939598" stroke-width="0.4"/>
<circle cx="75.50" cy="462.50" r="1.05" fill="#fff" stroke="#939598" stroke-width="0.4"/>
<circle cx="89.50" cy="462.50" r="1.05" fill="#fff" stroke="#939598" stroke-width="0.4"/>
<circle cx="103.50" cy="462.50" r="1.05" fill="#fff" stroke="#939598" stroke-width="0.4"/>
<circle cx="117.50" cy="462.50" r="1.05" fill="#fff" stroke="#939598" stroke-width="0.4"/>
<circle cx="131.50" cy="462.50" r="1.05" fill="#fff" stroke="#939598" stroke-width="0.4"/>
<circle cx="145.50" cy="462.50" r="1.05" fill="#fff" stroke="#939598" stroke-width="0.4"/>
<circle cx="159.50" cy="462.50" r="1.05" fill="#fff" stroke="#939598" stroke-width="0.4"/>
<circle cx="173.50" cy="462.50" r="1.05" fill="#fff" stroke="#939598" stroke-width="0.4"/>
<circle cx="187.50" cy="462.50" r="1.05" fill="#fff" stroke="#939598" stroke-width="0.4"/>
<circle cx="201.50" cy="462.50" r="1.05" fill="#fff" stroke="#939598" stroke-width="0.4"/>
<circle cx="215.50" cy="462.50" r="1.05" fill="#fff" stroke="#939598" stroke-width="0.4"/>
<circle cx="75.50" cy="475.50" r="1.05" fill="#fff" stroke="#939598" stroke-width="0.4"/>
<circle cx="89.50" cy="475.50" r="1.05" fill="#fff" stroke="#939598" stroke-width="0.4"/>
<circle cx="103.50" cy="475.50" r="1.05" fill="#fff" stroke="#939598" stroke-width="0.4"/>
<circle cx="117.50" cy="475.50" r="1.05" fill="#fff" stroke="#939598" stroke-width="0.4"/>
<circle cx="131.50" cy="475.50" r="1.05" fill="#fff" stroke="#939598" stroke-width="0.4"/>
<circle cx="145.50" cy="475.50" r="1.05" fill="#fff" stroke="#939598" stroke-width="0.4"/>
<circle cx="159.50" cy="475.50" r="1.05" fill="#fff" stroke="#939598" stroke-width="0.4"/>
<circle cx="173.50" cy="475.50" r="1.05" fill="#fff" stroke="#939598" stroke-width="0.4"/>
<circle cx="187.50" cy="475.50" r="1.05" fill="#fff" stroke="#939598" stroke-width="0.4"/>
<circle cx="201.50" cy="475.50" r="1.05" fill="#fff" stroke="#939598" stroke-width="0.4"/>
<circle cx="215.50" cy="475.50" r="1.05" fill="#fff" stroke="#939598" stroke-width="0.4"/>
<circle cx="75.50" cy="489.50" r="1.05" fill="#fff" stroke="#939598" stroke-width="0.4"/>
<circle cx="89.50" cy="489.50" r="1.05" fill="#fff" stroke="#939598" stroke-width="0.4"/>
<circle cx="103.50" cy="489.50" r="1.05" fill="#fff" stroke="#939598" stroke-width="0.4"/>
<circle cx="117.50" cy="489.50" r="1.05" fill="#fff" stroke="#939598" stroke-width="0.4"/>
<circle cx="131.50" cy="489.50" r="1.05" fill="#fff" stroke="#939598" stroke-width="0.4"/>
<circle cx="145.50" cy="489.50" r="1.05" fill="#fff" stroke="#939598" stroke-width="0.4"/>
<circle cx="159.50" cy="489.50" r="1.05" fill="#fff" stroke="#939598" stroke-width="0.4"/>
<circle cx="173.50" cy="489.50" r="1.05" fill="#fff" stroke="#939598" stroke-width="0.4"/>
<circle cx="187.50" cy="489.50" r="1.05" fill="#fff" stroke="#939598" stroke-width="0.4"/>
<circle cx="201.50" cy="489.50" r="1.05" fill="#fff" stroke="#939598" stroke-width="0.4"/>
<circle cx="215.50" cy="489.50" r="1.05" fill="#fff" stroke="#939598" stroke-width="0.4"/>
<circle cx="75.50" cy="502.50" r="1.05" fill="#fff" stroke="#939598" stroke-width="0.4"/>
<circle cx="89.50" cy="502.50" r="1.05" fill="#fff" stroke="#939598" stroke-width="0.4"/>
<circle cx="103.50" cy="502.50" r="1.05" fill="#fff" stroke="#939598" stroke-width="0.4"/>
<circle cx="117.50" cy="502.50" r="1.05" fill="#fff" stroke="#939598" stroke-width="0.4"/>
<circle cx="131.50" cy="502.50" r="1.05" fill="#fff" stroke="#939598" stroke-width="0.4"/>
<circle cx="145.50" cy="502.50" r="1.05" fill="#fff" stroke="#939598" stroke-width="0.4"/>
<circle cx="159.50" cy="502.50" r="1.05" fill="#fff" stroke="#939598" stroke-width="0.4"/>
<circle cx="173.50" cy="502.50" r="1.05" fill="#fff" stroke="#939598" stroke-width="0.4"/>
<circle cx="187.50" cy="502.50" r="1.05" fill="#fff" stroke="#939598" stroke-width="0.4"/>
<circle cx="201.50" cy="502.50" r="1.05" fill="#fff" stroke="#939598" stroke-width="0.4"/>
<circle cx="215.50" cy="502.50" r="1.05" fill="#fff" stroke="#939598" stroke-width="0.4"/>
<circle cx="75.50" cy="515.50" r="1.05" fill="#fff" stroke="#939598" stroke-width="0.4"/>
<circle cx="89.50" cy="515.50" r="1.05" fill="#fff" stroke="#939598" stroke-width="0.4"/>
<circle cx="103.50" cy="515.50" r="1.05" fill="#fff" stroke="#939598" stroke-width="0.4"/>
<circle cx="117.50" cy="515.50" r="1.05" fill="#fff" stroke="#939598" stroke-width="0.4"/>
<circle cx="131.50" cy="515.50" r="1.05" fill="#fff" stroke="#939598" stroke-width="0.4"/>
<circle cx="145.50" cy="515.50" r="1.05" fill="#fff" stroke="#939598" stroke-width="0.4"/>
<circle cx="159.50" cy="515.50" r="1.05" fill="#fff" stroke="#939598" stroke-width="0.4"/>
<circle cx="173.50" cy="515.50" r="1.05" fill="#fff" stroke="#939598" stroke-width="0.4"/>
<circle cx="187.50" cy="515.50" r="1.05" fill="#fff" stroke="#939598" stroke-width="0.4"/>
<circle cx="201.50" cy="515.50" r="1.05" fill="#fff" stroke="#939598" stroke-width="0.4"/>
<circle cx="215.50" cy="515.50" r="1.05" fill="#fff" stroke="#939598" stroke-width="0.4"/>
<circle cx="75.50" cy="528.50" r="1.05" fill="#fff" stroke="#939598" stroke-width="0.4"/>
<circle cx="89.50" cy="528.50" r="1.05" fill="#fff" stroke="#939598" stroke-width="0.4"/>
<circle cx="103.50" cy="528.50" r="1.05" fill="#fff" stroke="#939598" stroke-width="0.4"/>
<circle cx="117.50" cy="528.50" r="1.05" fill="#fff" stroke="#939598" stroke-width="0.4"/>
<circle cx="131.50" cy="528.50" r="1.05" fill="#fff" stroke="#939598" stroke-width="0.4"/>
<circle cx="145.50" cy="528.50" r="1.05" fill="#fff" stroke="#939598" stroke-width="0.4"/>
<circle cx="159.50" cy="528.50" r="1.05" fill="#fff" stroke="#939598" stroke-width="0.4"/>
<circle cx="173.50" cy="528.50" r="1.05" fill="#fff" stroke="#939598" stroke-width="0.4"/>
<circle cx="187.50" cy="528.50" r="1.05" fill="#fff" stroke="#939598" stroke-width="0.4"/>
<circle cx="201.50" cy="528.50" r="1.05" fill="#fff" stroke="#939598" stroke-width="0.4"/>
<circle cx="215.50" cy="528.50" r="1.05" fill="#fff" stroke="#939598" stroke-width="0.4"/>
<circle cx="75.50" cy="542.50" r="1.05" fill="#fff" stroke="#939598" stroke-width="0.4"/>
<circle cx="89.50" cy="542.50" r="1.05" fill="#fff" stroke="#939598" stroke-width="0.4"/>
<circle cx="103.50" cy="542.50" r="1.05" fill="#fff" stroke="#939598" stroke-width="0.4"/>
<circle cx="117.50" cy="542.50" r="1.05" fill="#fff" stroke="#939598" stroke-width="0.4"/>
<circle cx="131.50" cy="542.50" r="1.05" fill="#fff" stroke="#939598" stroke-width="0.4"/>
<circle cx="145.50" cy="542.50" r="1.05" fill="#fff" stroke="#939598" stroke-width="0.4"/>
<circle cx="159.50" cy="542.50" r="1.05" fill="#fff" stroke="#939598" stroke-width="0.4"/>
<circle cx="173.50" cy="542.50" r="1.05" fill="#fff" stroke="#939598" stroke-width="0.4"/>
<circle cx="187.50" cy="542.50" r="1.05" fill="#fff" stroke="#939598" stroke-width="0.4"/>
<circle cx="201.50" cy="542.50" r="1.05" fill="#fff" stroke="#939598" stroke-width="0.4"/>
<circle cx="215.50" cy="542.50" r="1.05" fill="#fff" stroke="#939598" stroke-width="0.4"/>
<text x="67.0" y="119.2" font-size="9.2" text-anchor="end" fill="#231f20" font-weight="normal" font-style="italic" textLength="23.53" lengthAdjust="spacingAndGlyphs" stroke="#231f20" stroke-width="0.25">ASXL1</text>
<text x="67.0" y="132.4" font-size="9.2" text-anchor="end" fill="#231f20" font-weight="normal" font-style="italic" textLength="22.56" lengthAdjust="spacingAndGlyphs" stroke="#231f20" stroke-width="0.25">BCOR</text>
<text x="67.0" y="145.6" font-size="9.2" text-anchor="end" fill="#231f20" font-weight="normal" font-style="italic" textLength="32.33" lengthAdjust="spacingAndGlyphs" stroke="#231f20" stroke-width="0.25">BCORL1</text>
<text x="67.0" y="158.8" font-size="9.2" text-anchor="end" fill="#231f20" font-weight="normal" font-style="italic" textLength="15.34" lengthAdjust="spacingAndGlyphs" stroke="#231f20" stroke-width="0.25">CBL</text>
<text x="67.0" y="172.0" font-size="9.2" text-anchor="end" fill="#231f20" font-weight="normal" font-style="italic" textLength="26.08" lengthAdjust="spacingAndGlyphs" stroke="#231f20" stroke-width="0.25">CEBPA</text>
<text x="67.0" y="185.2" font-size="9.2" text-anchor="end" fill="#231f20" font-weight="normal" font-style="italic" textLength="35.42" lengthAdjust="spacingAndGlyphs" stroke="#231f20" stroke-width="0.25">DNMT3A</text>
<text x="67.0" y="198.4" font-size="9.2" text-anchor="end" fill="#231f20" font-weight="normal" font-style="italic" textLength="18.84" lengthAdjust="spacingAndGlyphs" stroke="#231f20" stroke-width="0.25">ETV6</text>
<text x="67.0" y="211.6" font-size="9.2" text-anchor="end" fill="#231f20" font-weight="normal" font-style="italic" textLength="20.02" lengthAdjust="spacingAndGlyphs" stroke="#231f20" stroke-width="0.25">EZH2</text>
<text x="67.0" y="224.8" font-size="9.2" text-anchor="end" fill="#231f20" font-weight="normal" font-style="italic" textLength="16.9" lengthAdjust="spacingAndGlyphs" stroke="#231f20" stroke-width="0.25">FLT3</text>
<text x="67.0" y="238.0" font-size="9.2" text-anchor="end" fill="#231f20" font-weight="normal" font-style="italic" textLength="26.56" lengthAdjust="spacingAndGlyphs" stroke="#231f20" stroke-width="0.25">GATA2</text>
<text x="67.0" y="251.2" font-size="9.2" text-anchor="end" fill="#231f20" font-weight="normal" font-style="italic" textLength="18.89" lengthAdjust="spacingAndGlyphs" stroke="#231f20" stroke-width="0.25">IDH1</text>
<text x="67.0" y="264.4" font-size="9.2" text-anchor="end" fill="#231f20" font-weight="normal" font-style="italic" textLength="18.89" lengthAdjust="spacingAndGlyphs" stroke="#231f20" stroke-width="0.25">IDH2</text>
<text x="67.0" y="277.6" font-size="9.2" text-anchor="end" fill="#231f20" font-weight="normal" font-style="italic" textLength="19.59" lengthAdjust="spacingAndGlyphs" stroke="#231f20" stroke-width="0.25">JAK2</text>
<text x="67.0" y="290.8" font-size="9.2" text-anchor="end" fill="#231f20" font-weight="normal" font-style="italic" textLength="29.32" lengthAdjust="spacingAndGlyphs" stroke="#231f20" stroke-width="0.25">KDM6A</text>
<text x="67.0" y="304.0" font-size="9.2" text-anchor="end" fill="#231f20" font-weight="normal" font-style="italic" textLength="13.11" lengthAdjust="spacingAndGlyphs" stroke="#231f20" stroke-width="0.25">KIT</text>
<text x="67.0" y="317.2" font-size="9.2" text-anchor="end" fill="#231f20" font-weight="normal" font-style="italic" textLength="21.04" lengthAdjust="spacingAndGlyphs" stroke="#231f20" stroke-width="0.25">KRAS</text>
<text x="67.0" y="330.4" font-size="9.2" text-anchor="end" fill="#231f20" font-weight="normal" font-style="italic" textLength="15.41" lengthAdjust="spacingAndGlyphs" stroke="#231f20" stroke-width="0.25">NF1</text>
<text x="67.0" y="343.6" font-size="9.2" text-anchor="end" fill="#231f20" font-weight="normal" font-style="italic" textLength="22.72" lengthAdjust="spacingAndGlyphs" stroke="#231f20" stroke-width="0.25">NPM1</text>
<text x="67.0" y="356.8" font-size="9.2" text-anchor="end" fill="#231f20" font-weight="normal" font-style="italic" textLength="21.72" lengthAdjust="spacingAndGlyphs" stroke="#231f20" stroke-width="0.25">NRAS</text>
<text x="67.0" y="370.0" font-size="9.2" text-anchor="end" fill="#231f20" font-weight="normal" font-style="italic" textLength="19.87" lengthAdjust="spacingAndGlyphs" stroke="#231f20" stroke-width="0.25">PHF6</text>
<text x="67.0" y="383.2" font-size="9.2" text-anchor="end" fill="#231f20" font-weight="normal" font-style="italic" textLength="24.12" lengthAdjust="spacingAndGlyphs" stroke="#231f20" stroke-width="0.25">PRPF8</text>
<text x="67.0" y="396.4" font-size="9.2" text-anchor="end" fill="#231f20" font-weight="normal" font-style="italic" textLength="29.96" lengthAdjust="spacingAndGlyphs" stroke="#231f20" stroke-width="0.25">PTPN11</text>
<text x="67.0" y="409.6" font-size="9.2" text-anchor="end" fill="#231f20" font-weight="normal" font-style="italic" textLength="26.27" lengthAdjust="spacingAndGlyphs" stroke="#231f20" stroke-width="0.25">RAD21</text>
<text x="67.0" y="422.8" font-size="9.2" text-anchor="end" fill="#231f20" font-weight="normal" font-style="italic" textLength="27.4" lengthAdjust="spacingAndGlyphs" stroke="#231f20" stroke-width="0.25">RUNX1</text>
<text x="67.0" y="436.0" font-size="9.2" text-anchor="end" fill="#231f20" font-weight="normal" font-style="italic" textLength="23.5" lengthAdjust="spacingAndGlyphs" stroke="#231f20" stroke-width="0.25">SF3B1</text>
<text x="67.0" y="449.2" font-size="9.2" text-anchor="end" fill="#231f20" font-weight="normal" font-style="italic" textLength="22.47" lengthAdjust="spacingAndGlyphs" stroke="#231f20" stroke-width="0.25">SMC3</text>
<text x="67.0" y="462.4" font-size="9.2" text-anchor="end" fill="#231f20" font-weight="normal" font-style="italic" textLength="23.77" lengthAdjust="spacingAndGlyphs" stroke="#231f20" stroke-width="0.25">SRSF2</text>
<text x="67.0" y="475.6" font-size="9.2" text-anchor="end" fill="#231f20" font-weight="normal" font-style="italic" textLength="26.03" lengthAdjust="spacingAndGlyphs" stroke="#231f20" stroke-width="0.25">STAG2</text>
<text x="67.0" y="488.8" font-size="9.2" text-anchor="end" fill="#231f20" font-weight="normal" font-style="italic" textLength="18.81" lengthAdjust="spacingAndGlyphs" stroke="#231f20" stroke-width="0.25">TET2</text>
<text x="67.0" y="502.0" font-size="9.2" text-anchor="end" fill="#231f20" font-weight="normal" font-style="italic" textLength="19.39" lengthAdjust="spacingAndGlyphs" stroke="#231f20" stroke-width="0.25">TP53</text>
<text x="67.0" y="515.2" font-size="9.2" text-anchor="end" fill="#231f20" font-weight="normal" font-style="italic" textLength="25.82" lengthAdjust="spacingAndGlyphs" stroke="#231f20" stroke-width="0.25">U2AF1</text>
<text x="67.0" y="528.4" font-size="9.2" text-anchor="end" fill="#231f20" font-weight="normal" font-style="italic" textLength="17.66" lengthAdjust="spacingAndGlyphs" stroke="#231f20" stroke-width="0.25">WT1</text>
<text x="67.0" y="541.6" font-size="9.2" text-anchor="end" fill="#231f20" font-weight="normal" font-style="italic" textLength="23.79" lengthAdjust="spacingAndGlyphs" stroke="#231f20" stroke-width="0.25">ZRSR2</text>
<g clip-path="url(#pc)">
<circle cx="103.50" cy="117.50" r="4.9" fill="#dfaac8"/>
<circle cx="117.50" cy="117.50" r="4.9" fill="#c9e0cc"/>
<circle cx="159.50" cy="117.50" r="8.2" fill="#dfaac8"/>
<circle cx="215.50" cy="117.50" r="5.0" fill="#c9e0cc"/>
<circle cx="187.50" cy="130.50" r="5.1" fill="#5c9a6c"/>
<circle cx="145.50" cy="144.50" r="6.4" fill="#4f9262"/>
<circle cx="187.50" cy="144.50" r="5.0" fill="#0b6420"/>
<circle cx="117.50" cy="157.50" r="5.1" fill="#78ab84"/>
<circle cx="159.50" cy="157.50" r="8.2" fill="#b9508a"/>
<circle cx="215.50" cy="157.50" r="8.2" fill="#5c9a6c"/>
<circle cx="131.50" cy="197.50" r="5.0" fill="#cd80ab"/>
<circle cx="89.50" cy="210.50" r="5.3" fill="#97c1a0"/>
<circle cx="215.50" cy="210.50" r="5.0" fill="#b3d3b8"/>
<circle cx="117.50" cy="250.50" r="6.4" fill="#b9508a"/>
<circle cx="145.50" cy="276.50" r="5.0" fill="#97c1a0"/>
<circle cx="187.50" cy="276.50" r="5.1" fill="#d48fb5"/>
<circle cx="215.50" cy="276.50" r="5.0" fill="#97c1a0"/>
<circle cx="89.50" cy="316.50" r="5.1" fill="#87b792"/>
<circle cx="159.50" cy="316.50" r="8.3" fill="#a41f62"/>
<circle cx="201.50" cy="316.50" r="4.8" fill="#468a58"/>
<circle cx="215.50" cy="316.50" r="8.0" fill="#0b6420"/>
<circle cx="117.50" cy="356.50" r="5.1" fill="#97c1a0"/>
<circle cx="159.50" cy="356.50" r="8.3" fill="#a41f62"/>
<circle cx="173.50" cy="356.50" r="4.8" fill="#5c9a6c"/>
<circle cx="215.50" cy="356.50" r="7.8" fill="#5c9a6c"/>
<circle cx="159.50" cy="422.50" r="8.0" fill="#c8709f"/>
<circle cx="173.50" cy="422.50" r="8.1" fill="#78ab84"/>
<circle cx="215.50" cy="422.50" r="7.6" fill="#97c1a0"/>
<circle cx="75.50" cy="435.50" r="5.1" fill="#b3d3b8"/>
<circle cx="89.50" cy="435.50" r="8.2" fill="#d48fb5"/>
<circle cx="117.50" cy="435.50" r="6.4" fill="#b3d3b8"/>
<circle cx="145.50" cy="435.50" r="8.2" fill="#468a58"/>
<circle cx="173.50" cy="435.50" r="5.0" fill="#e9c3d7"/>
<circle cx="201.50" cy="435.50" r="8.0" fill="#97c1a0"/>
<circle cx="75.50" cy="462.50" r="6.3" fill="#dfaac8"/>
<circle cx="89.50" cy="462.50" r="5.0" fill="#c9e0cc"/>
<circle cx="117.50" cy="462.50" r="6.4" fill="#b3d3b8"/>
<circle cx="159.50" cy="462.50" r="8.0" fill="#c06293"/>
<circle cx="215.50" cy="462.50" r="7.6" fill="#468a58"/>
<circle cx="75.50" cy="475.50" r="6.4" fill="#c8709f"/>
<circle cx="173.50" cy="475.50" r="5.1" fill="#78ab84"/>
<circle cx="201.50" cy="475.50" r="8.0" fill="#d48fb5"/>
<circle cx="75.50" cy="489.50" r="5.0" fill="#e9c3d7"/>
<circle cx="117.50" cy="489.50" r="5.1" fill="#c9e0cc"/>
<circle cx="131.50" cy="489.50" r="5.1" fill="#c9e0cc"/>
<circle cx="159.50" cy="489.50" r="8.1" fill="#d48fb5"/>
<circle cx="201.50" cy="489.50" r="6.4" fill="#c9e0cc"/>
<circle cx="215.50" cy="489.50" r="7.6" fill="#78ab84"/>
<circle cx="75.50" cy="502.50" r="5.0" fill="#e9c3d7"/>
<circle cx="145.50" cy="502.50" r="6.4" fill="#dfaac8"/>
<circle cx="201.50" cy="502.50" r="6.4" fill="#dfaac8"/>
<circle cx="215.50" cy="502.50" r="5.0" fill="#d48fb5"/>
</g>
<ellipse cx="89.50" cy="111.1" rx="3.7" ry="0.65" fill="#d48fb5"/>
<ellipse cx="117.50" cy="111.1" rx="3.7" ry="0.65" fill="#c8709f"/>
<ellipse cx="187.50" cy="111.1" rx="3.7" ry="0.65" fill="#b3d3b8"/>
<ellipse cx="201.50" cy="111.1" rx="3.7" ry="0.65" fill="#c8709f"/>
<rect x="75.05" y="93.5" width="4.3" height="13.30" fill="#a50023"/>
<rect x="88.90" y="89.6" width="4.3" height="17.20" fill="#a50023"/>
<rect x="102.75" y="89.0" width="4.3" height="17.80" fill="#a50023"/>
<rect x="116.60" y="95.4" width="4.3" height="11.40" fill="#a50023"/>
<rect x="130.45" y="91.3" width="4.3" height="15.50" fill="#a50023"/>
<rect x="144.30" y="92.0" width="4.3" height="14.80" fill="#a50023"/>
<rect x="158.15" y="101.8" width="4.3" height="5.00" fill="#a50023"/>
<rect x="172.00" y="99.3" width="4.3" height="7.50" fill="#a50023"/>
<rect x="185.85" y="101.8" width="4.3" height="5.00" fill="#a50023"/>
<rect x="199.70" y="96.0" width="4.3" height="10.80" fill="#a50023"/>
<rect x="213.55" y="87.8" width="4.3" height="19.00" fill="#a50023"/>
<line x1="70.6" y1="86.6" x2="70.6" y2="109.8" stroke="#231f20" stroke-width="1.0"/>
<line x1="67.3" y1="106.8" x2="225.0" y2="106.8" stroke="#231f20" stroke-width="1.0"/>
<line x1="67.3" y1="95.4" x2="70.6" y2="95.4" stroke="#231f20" stroke-width="1.0"/>
<line x1="69.0" y1="89.5" x2="70.6" y2="89.5" stroke="#231f20" stroke-width="0.9"/>
<line x1="69.0" y1="101.1" x2="70.6" y2="101.1" stroke="#231f20" stroke-width="0.9"/>
<line x1="84.12" y1="106.8" x2="84.12" y2="109.6" stroke="#231f20" stroke-width="0.9"/>
<line x1="97.97" y1="106.8" x2="97.97" y2="109.6" stroke="#231f20" stroke-width="0.9"/>
<line x1="111.83" y1="106.8" x2="111.83" y2="109.6" stroke="#231f20" stroke-width="0.9"/>
<line x1="125.67" y1="106.8" x2="125.67" y2="109.6" stroke="#231f20" stroke-width="0.9"/>
<line x1="139.53" y1="106.8" x2="139.53" y2="109.6" stroke="#231f20" stroke-width="0.9"/>
<line x1="153.38" y1="106.8" x2="153.38" y2="109.6" stroke="#231f20" stroke-width="0.9"/>
<line x1="167.22" y1="106.8" x2="167.22" y2="109.6" stroke="#231f20" stroke-width="0.9"/>
<line x1="181.07" y1="106.8" x2="181.07" y2="109.6" stroke="#231f20" stroke-width="0.9"/>
<line x1="194.93" y1="106.8" x2="194.93" y2="109.6" stroke="#231f20" stroke-width="0.9"/>
<line x1="208.77" y1="106.8" x2="208.77" y2="109.6" stroke="#231f20" stroke-width="0.9"/>
<line x1="222.62" y1="106.8" x2="222.62" y2="109.6" stroke="#231f20" stroke-width="0.9"/>
<text x="63.8" y="98.4" font-size="9.0" text-anchor="end" fill="#231f20" font-weight="normal" textLength="12.0" lengthAdjust="spacingAndGlyphs" stroke="#231f20" stroke-width="0.25">500</text>
<text x="63.6" y="109.8" font-size="9.0" text-anchor="end" fill="#231f20" font-weight="normal" textLength="4.61" lengthAdjust="spacingAndGlyphs" stroke="#231f20" stroke-width="0.25">0</text>
<text transform="translate(32.6 95.8) rotate(-90)" x="0" y="0" font-size="9.4" text-anchor="middle" fill="#231f20" stroke="#231f20" stroke-width="0.25" textLength="12.0" lengthAdjust="spacingAndGlyphs"># of</text>
<text transform="translate(44.6 97.4) rotate(-90)" x="0" y="0" font-size="9.6" text-anchor="middle" fill="#231f20" stroke="#231f20" stroke-width="0.25" textLength="17.6" lengthAdjust="spacingAndGlyphs">cases</text>
<line x1="223.3" y1="110.0" x2="223.3" y2="546.3" stroke="#000" stroke-width="1.2"/>
<line x1="220.5" y1="110.2" x2="251.0" y2="110.2" stroke="#231f20" stroke-width="1.0"/>
<line x1="234.6" y1="108.6" x2="234.6" y2="110.2" stroke="#231f20" stroke-width="0.9"/>
<line x1="245.5" y1="107.0" x2="245.5" y2="110.2" stroke="#231f20" stroke-width="1.0"/>
<line x1="223.2" y1="106.8" x2="223.2" y2="110.2" stroke="#231f20" stroke-width="1.0"/>
<line x1="221.3" y1="123.95" x2="222.9" y2="123.95" stroke="#231f20" stroke-width="0.9"/>
<line x1="221.3" y1="137.05" x2="222.9" y2="137.05" stroke="#231f20" stroke-width="0.9"/>
<line x1="221.3" y1="150.15" x2="222.9" y2="150.15" stroke="#231f20" stroke-width="0.9"/>
<line x1="221.3" y1="163.25" x2="222.9" y2="163.25" stroke="#231f20" stroke-width="0.9"/>
<line x1="221.3" y1="176.35" x2="222.9" y2="176.35" stroke="#231f20" stroke-width="0.9"/>
<line x1="221.3" y1="189.45" x2="222.9" y2="189.45" stroke="#231f20" stroke-width="0.9"/>
<line x1="221.3" y1="202.55" x2="222.9" y2="202.55" stroke="#231f20" stroke-width="0.9"/>
<line x1="221.3" y1="215.65" x2="222.9" y2="215.65" stroke="#231f20" stroke-width="0.9"/>
<line x1="221.3" y1="228.75" x2="222.9" y2="228.75" stroke="#231f20" stroke-width="0.9"/>
<line x1="221.3" y1="241.85" x2="222.9" y2="241.85" stroke="#231f20" stroke-width="0.9"/>
<line x1="221.3" y1="254.95" x2="222.9" y2="254.95" stroke="#231f20" stroke-width="0.9"/>
<line x1="221.3" y1="268.05" x2="222.9" y2="268.05" stroke="#231f20" stroke-width="0.9"/>
<line x1="221.3" y1="281.15" x2="222.9" y2="281.15" stroke="#231f20" stroke-width="0.9"/>
<line x1="221.3" y1="294.25" x2="222.9" y2="294.25" stroke="#231f20" stroke-width="0.9"/>
<line x1="221.3" y1="307.35" x2="222.9" y2="307.35" stroke="#231f20" stroke-width="0.9"/>
<line x1="221.3" y1="320.45" x2="222.9" y2="320.45" stroke="#231f20" stroke-width="0.9"/>
<line x1="221.3" y1="333.55" x2="222.9" y2="333.55" stroke="#231f20" stroke-width="0.9"/>
<line x1="221.3" y1="346.65" x2="222.9" y2="346.65" stroke="#231f20" stroke-width="0.9"/>
<line x1="221.3" y1="359.75" x2="222.9" y2="359.75" stroke="#231f20" stroke-width="0.9"/>
<line x1="221.3" y1="372.85" x2="222.9" y2="372.85" stroke="#231f20" stroke-width="0.9"/>
<line x1="221.3" y1="385.95" x2="222.9" y2="385.95" stroke="#231f20" stroke-width="0.9"/>
<line x1="221.3" y1="399.05" x2="222.9" y2="399.05" stroke="#231f20" stroke-width="0.9"/>
<line x1="221.3" y1="412.15" x2="222.9" y2="412.15" stroke="#231f20" stroke-width="0.9"/>
<line x1="221.3" y1="425.25" x2="222.9" y2="425.25" stroke="#231f20" stroke-width="0.9"/>
<line x1="221.3" y1="438.35" x2="222.9" y2="438.35" stroke="#231f20" stroke-width="0.9"/>
<line x1="221.3" y1="451.45" x2="222.9" y2="451.45" stroke="#231f20" stroke-width="0.9"/>
<line x1="221.3" y1="464.55" x2="222.9" y2="464.55" stroke="#231f20" stroke-width="0.9"/>
<line x1="221.3" y1="477.65" x2="222.9" y2="477.65" stroke="#231f20" stroke-width="0.9"/>
<line x1="221.3" y1="490.75" x2="222.9" y2="490.75" stroke="#231f20" stroke-width="0.9"/>
<line x1="221.3" y1="503.85" x2="222.9" y2="503.85" stroke="#231f20" stroke-width="0.9"/>
<line x1="221.3" y1="516.95" x2="222.9" y2="516.95" stroke="#231f20" stroke-width="0.9"/>
<line x1="221.3" y1="530.05" x2="222.9" y2="530.05" stroke="#231f20" stroke-width="0.9"/>
<line x1="221.3" y1="543.15" x2="222.9" y2="543.15" stroke="#231f20" stroke-width="0.9"/>
<rect x="223.9" y="115.30" width="19.10" height="4.2" fill="#a50023"/>
<rect x="223.9" y="128.40" width="6.40" height="4.2" fill="#a50023"/>
<rect x="223.9" y="141.50" width="2.80" height="4.2" fill="#a50023"/>
<rect x="223.9" y="154.60" width="4.40" height="4.2" fill="#a50023"/>
<rect x="223.9" y="167.70" width="0.40" height="4.2" fill="#a50023"/>
<rect x="223.9" y="180.80" width="12.30" height="4.2" fill="#a50023"/>
<rect x="223.9" y="193.90" width="3.60" height="4.2" fill="#a50023"/>
<rect x="223.9" y="207.00" width="6.70" height="4.2" fill="#a50023"/>
<rect x="223.9" y="220.10" width="0.90" height="4.2" fill="#a50023"/>
<rect x="223.9" y="233.20" width="0.90" height="4.2" fill="#a50023"/>
<rect x="223.9" y="246.30" width="2.80" height="4.2" fill="#a50023"/>
<rect x="223.9" y="259.40" width="4.20" height="4.2" fill="#a50023"/>
<rect x="223.9" y="272.50" width="3.90" height="4.2" fill="#a50023"/>
<rect x="223.9" y="285.60" width="0.90" height="4.2" fill="#a50023"/>
<rect x="223.9" y="298.70" width="0.70" height="4.2" fill="#a50023"/>
<rect x="223.9" y="311.80" width="2.00" height="4.2" fill="#a50023"/>
<rect x="223.9" y="324.90" width="2.00" height="4.2" fill="#a50023"/>
<rect x="223.9" y="338.00" width="4.10" height="4.2" fill="#a50023"/>
<rect x="223.9" y="351.10" width="4.80" height="4.2" fill="#a50023"/>
<rect x="223.9" y="364.20" width="2.00" height="4.2" fill="#a50023"/>
<rect x="223.9" y="377.30" width="0.70" height="4.2" fill="#a50023"/>
<rect x="223.9" y="390.40" width="2.00" height="4.2" fill="#a50023"/>
<rect x="223.9" y="403.50" width="0.70" height="4.2" fill="#a50023"/>
<rect x="223.9" y="416.60" width="11.10" height="4.2" fill="#a50023"/>
<rect x="223.9" y="429.70" width="14.60" height="4.2" fill="#a50023"/>
<rect x="223.9" y="442.80" width="0.10" height="4.2" fill="#a50023"/>
<rect x="223.9" y="455.90" width="12.70" height="4.2" fill="#a50023"/>
<rect x="223.9" y="469.00" width="7.40" height="4.2" fill="#a50023"/>
<rect x="223.9" y="482.10" width="22.90" height="4.2" fill="#a50023"/>
<rect x="223.9" y="495.20" width="9.90" height="4.2" fill="#a50023"/>
<rect x="223.9" y="508.30" width="9.10" height="4.2" fill="#a50023"/>
<rect x="223.9" y="521.40" width="0.70" height="4.2" fill="#a50023"/>
<rect x="223.9" y="534.50" width="4.80" height="4.2" fill="#a50023"/>
<text x="237.1" y="77.4" font-size="9.4" text-anchor="middle" fill="#231f20" font-weight="normal" textLength="12.0" lengthAdjust="spacingAndGlyphs" stroke="#231f20" stroke-width="0.25"># of</text>
<text x="236.0" y="89.4" font-size="9.6" text-anchor="middle" fill="#231f20" font-weight="normal" textLength="17.6" lengthAdjust="spacingAndGlyphs" stroke="#231f20" stroke-width="0.25">cases</text>
<text x="223.1" y="102.4" font-size="9.0" text-anchor="middle" fill="#231f20" font-weight="normal" textLength="4.61" lengthAdjust="spacingAndGlyphs" stroke="#231f20" stroke-width="0.25">0</text>
<text x="245.3" y="102.4" font-size="9.0" text-anchor="middle" fill="#231f20" font-weight="normal" textLength="13.2" lengthAdjust="spacingAndGlyphs" stroke="#231f20" stroke-width="0.25">200</text>
<text transform="translate(26.0 327.5) rotate(-90)" x="0" y="0" font-size="9.2" text-anchor="middle" fill="#231f20" stroke="#231f20" stroke-width="0.25" textLength="65.5" lengthAdjust="spacingAndGlyphs">Somatic mutations</text>
<text x="145.8" y="622.8" font-size="9.2" text-anchor="middle" fill="#231f20" font-weight="normal" textLength="66.5" lengthAdjust="spacingAndGlyphs" stroke="#231f20" stroke-width="0.25">Clinical parameters</text>
<text transform="translate(78.70 551.2) rotate(-45)" font-size="8.4" text-anchor="end" fill="#231f20" stroke="#231f20" stroke-width="0.25">Myeloid dysplasia</text>
<text transform="translate(92.70 551.2) rotate(-45)" font-size="8.4" text-anchor="end" fill="#231f20" stroke="#231f20" stroke-width="0.25">Erythroid dysplasia</text>
<text transform="translate(106.70 551.2) rotate(-45)" font-size="8.4" text-anchor="end" fill="#231f20" stroke="#231f20" stroke-width="0.25">MgK dysplasia</text>
<text transform="translate(120.70 551.2) rotate(-45)" font-size="8.4" text-anchor="end" fill="#231f20" stroke="#231f20" stroke-width="0.25">Neutropenia</text>
<text transform="translate(134.70 551.2) rotate(-45)" font-size="8.4" text-anchor="end" fill="#231f20" stroke="#231f20" stroke-width="0.25">Anemia</text>
<text transform="translate(148.70 551.2) rotate(-45)" font-size="8.4" text-anchor="end" fill="#231f20" stroke="#231f20" stroke-width="0.25">Thrombocytopenia</text>
<text transform="translate(162.70 551.2) rotate(-45)" font-size="8.4" text-anchor="end" fill="#231f20" stroke="#231f20" stroke-width="0.25">Monocytosis</text>
<text transform="translate(176.70 551.2) rotate(-45)" font-size="8.4" text-anchor="end" fill="#231f20" stroke="#231f20" stroke-width="0.25">Elevated MgK</text>
<text transform="translate(190.70 551.2) rotate(-45)" font-size="8.4" text-anchor="end" fill="#231f20" stroke="#231f20" stroke-width="0.25">Myelofibrosis</text>
<text transform="translate(204.70 551.2) rotate(-45)" font-size="8.4" text-anchor="end" fill="#231f20" stroke="#231f20" stroke-width="0.25">High risk (vs. Low risk)</text>
<text transform="translate(218.70 551.2) rotate(-45)" font-size="8.4" text-anchor="end" fill="#231f20" stroke="#231f20" stroke-width="0.25">MDS (vs. MDS/MPN)</text>
<text x="268.6" y="69.3" font-size="12.0" text-anchor="start" fill="#231f20" font-weight="bold" textLength="8.2" lengthAdjust="spacingAndGlyphs" stroke="#231f20" stroke-width="0.35">B</text>
<line x1="420" y1="68.6" x2="420" y2="226.5" stroke="#231f20" stroke-width="1.2"/>
<line x1="337.4" y1="226.5" x2="503.7" y2="226.5" stroke="#231f20" stroke-width="1.1"/>
<line x1="339.2" y1="226.5" x2="339.2" y2="229.1" stroke="#231f20" stroke-width="1.0"/>
<text x="339.2" y="240.4" font-size="9.2" text-anchor="middle" fill="#231f20" font-weight="normal" textLength="19.57" lengthAdjust="spacingAndGlyphs" stroke="#231f20" stroke-width="0.25">0.125</text>
<line x1="366.13" y1="226.5" x2="366.13" y2="229.1" stroke="#231f20" stroke-width="1.0"/>
<text x="366.13" y="240.4" font-size="9.2" text-anchor="middle" fill="#231f20" font-weight="normal" textLength="15.22" lengthAdjust="spacingAndGlyphs" stroke="#231f20" stroke-width="0.25">0.25</text>
<line x1="393.06" y1="226.5" x2="393.06" y2="229.1" stroke="#231f20" stroke-width="1.0"/>
<text x="393.06" y="240.4" font-size="9.2" text-anchor="middle" fill="#231f20" font-weight="normal" textLength="10.87" lengthAdjust="spacingAndGlyphs" stroke="#231f20" stroke-width="0.25">0.5</text>
<line x1="419.99" y1="226.5" x2="419.99" y2="229.1" stroke="#231f20" stroke-width="1.0"/>
<text x="419.99" y="240.4" font-size="9.2" text-anchor="middle" fill="#231f20" font-weight="normal" textLength="4.35" lengthAdjust="spacingAndGlyphs" stroke="#231f20" stroke-width="0.25">1</text>
<line x1="446.92" y1="226.5" x2="446.92" y2="229.1" stroke="#231f20" stroke-width="1.0"/>
<text x="446.92" y="240.4" font-size="9.2" text-anchor="middle" fill="#231f20" font-weight="normal" textLength="4.35" lengthAdjust="spacingAndGlyphs" stroke="#231f20" stroke-width="0.25">2</text>
<line x1="473.85" y1="226.5" x2="473.85" y2="229.1" stroke="#231f20" stroke-width="1.0"/>
<text x="473.85" y="240.4" font-size="9.2" text-anchor="middle" fill="#231f20" font-weight="normal" textLength="4.35" lengthAdjust="spacingAndGlyphs" stroke="#231f20" stroke-width="0.25">4</text>
<line x1="500.78" y1="226.5" x2="500.78" y2="229.1" stroke="#231f20" stroke-width="1.0"/>
<text x="500.78" y="240.4" font-size="9.2" text-anchor="middle" fill="#231f20" font-weight="normal" textLength="4.35" lengthAdjust="spacingAndGlyphs" stroke="#231f20" stroke-width="0.25">8</text>
<line x1="418.4" y1="68.8" x2="421.6" y2="68.8" stroke="#231f20" stroke-width="1.0"/>
<line x1="418.6" y1="83.35000000000001" x2="420" y2="83.35000000000001" stroke="#231f20" stroke-width="1.0"/>
<line x1="418.6" y1="97.75" x2="420" y2="97.75" stroke="#231f20" stroke-width="1.0"/>
<line x1="418.6" y1="112.05" x2="420" y2="112.05" stroke="#231f20" stroke-width="1.0"/>
<line x1="418.6" y1="126.35000000000001" x2="420" y2="126.35000000000001" stroke="#231f20" stroke-width="1.0"/>
<line x1="418.6" y1="140.85" x2="420" y2="140.85" stroke="#231f20" stroke-width="1.0"/>
<line x1="418.6" y1="155.35" x2="420" y2="155.35" stroke="#231f20" stroke-width="1.0"/>
<line x1="418.6" y1="169.75" x2="420" y2="169.75" stroke="#231f20" stroke-width="1.0"/>
<line x1="418.6" y1="183.85" x2="420" y2="183.85" stroke="#231f20" stroke-width="1.0"/>
<line x1="418.6" y1="198.04999999999998" x2="420" y2="198.04999999999998" stroke="#231f20" stroke-width="1.0"/>
<line x1="418.6" y1="213.04999999999998" x2="420" y2="213.04999999999998" stroke="#231f20" stroke-width="1.0"/>
<line x1="290.0" y1="148.0" x2="498.0" y2="148.0" stroke="#4d4d4f" stroke-width="1.0" stroke-dasharray="3 2.3"/>
<line x1="290.0" y1="206.6" x2="498.0" y2="206.6" stroke="#4d4d4f" stroke-width="1.0" stroke-dasharray="3 2.3"/>
<text x="336.7" y="86.15" font-size="9.2" text-anchor="end" fill="#231f20" font-weight="normal" font-style="italic" textLength="26.13" lengthAdjust="spacingAndGlyphs" stroke="#231f20" stroke-width="0.25">STAG2</text>
<line x1="439.3" y1="83.35" x2="482.1" y2="83.35" stroke="#8a8a8a" stroke-width="1.1"/>
<line x1="439.3" y1="81.55" x2="439.3" y2="85.14999999999999" stroke="#8a8a8a" stroke-width="0.9"/>
<line x1="482.1" y1="81.55" x2="482.1" y2="85.14999999999999" stroke="#8a8a8a" stroke-width="0.9"/>
<circle cx="460.1" cy="83.35" r="3.6" fill="#c8126a"/>
<text x="336.7" y="100.55" font-size="9.2" text-anchor="end" fill="#231f20" font-weight="normal" font-style="italic" textLength="25.17" lengthAdjust="spacingAndGlyphs" stroke="#231f20" stroke-width="0.25">SRSF2</text>
<line x1="432.4" y1="97.75" x2="464.0" y2="97.75" stroke="#8a8a8a" stroke-width="1.1"/>
<line x1="432.4" y1="95.95" x2="432.4" y2="99.55" stroke="#8a8a8a" stroke-width="0.9"/>
<line x1="464.0" y1="95.95" x2="464.0" y2="99.55" stroke="#8a8a8a" stroke-width="0.9"/>
<circle cx="447.9" cy="97.75" r="3.6" fill="#c8126a"/>
<text x="336.7" y="114.85" font-size="9.2" text-anchor="end" fill="#231f20" font-weight="normal" font-style="italic" textLength="18.79" lengthAdjust="spacingAndGlyphs" stroke="#231f20" stroke-width="0.25">TP53</text>
<line x1="426.0" y1="112.05" x2="460.2" y2="112.05" stroke="#8a8a8a" stroke-width="1.1"/>
<line x1="426.0" y1="110.25" x2="426.0" y2="113.85" stroke="#8a8a8a" stroke-width="0.9"/>
<line x1="460.2" y1="110.25" x2="460.2" y2="113.85" stroke="#8a8a8a" stroke-width="0.9"/>
<circle cx="442.3" cy="112.05" r="3.6" fill="#c8126a"/>
<text x="336.7" y="129.15" font-size="9.2" text-anchor="end" fill="#231f20" font-weight="normal" font-style="italic" textLength="19.21" lengthAdjust="spacingAndGlyphs" stroke="#231f20" stroke-width="0.25">TET2</text>
<line x1="426.9" y1="126.35" x2="450.9" y2="126.35" stroke="#8a8a8a" stroke-width="1.1"/>
<line x1="426.9" y1="124.55" x2="426.9" y2="128.15" stroke="#8a8a8a" stroke-width="0.9"/>
<line x1="450.9" y1="124.55" x2="450.9" y2="128.15" stroke="#8a8a8a" stroke-width="0.9"/>
<circle cx="438.3" cy="126.35" r="3.6" fill="#c8126a"/>
<text x="336.7" y="143.65" font-size="9.2" text-anchor="end" fill="#231f20" font-weight="normal" font-style="italic" textLength="23.9" lengthAdjust="spacingAndGlyphs" stroke="#231f20" stroke-width="0.25">SF3B1</text>
<line x1="383.2" y1="140.85" x2="411.4" y2="140.85" stroke="#8a8a8a" stroke-width="1.1"/>
<line x1="383.2" y1="139.04999999999998" x2="383.2" y2="142.65" stroke="#8a8a8a" stroke-width="0.9"/>
<line x1="411.4" y1="139.04999999999998" x2="411.4" y2="142.65" stroke="#8a8a8a" stroke-width="0.9"/>
<circle cx="397.2" cy="140.85" r="3.6" fill="#33983f"/>
<text x="336.7" y="158.15" font-size="9.2" text-anchor="end" fill="#231f20" font-weight="normal" font-style="italic" textLength="23.9" lengthAdjust="spacingAndGlyphs" stroke="#231f20" stroke-width="0.25">SF3B1</text>
<line x1="438.3" y1="155.35" x2="474.6" y2="155.35" stroke="#8a8a8a" stroke-width="1.1"/>
<line x1="438.3" y1="153.54999999999998" x2="438.3" y2="157.15" stroke="#8a8a8a" stroke-width="0.9"/>
<line x1="474.6" y1="153.54999999999998" x2="474.6" y2="157.15" stroke="#8a8a8a" stroke-width="0.9"/>
<circle cx="455.5" cy="155.35" r="3.6" fill="#c8126a"/>
<text x="336.7" y="172.55" font-size="9.2" text-anchor="end" fill="#231f20" font-weight="normal" font-style="italic" textLength="25.17" lengthAdjust="spacingAndGlyphs" stroke="#231f20" stroke-width="0.25">SRSF2</text>
<line x1="384.8" y1="169.75" x2="414.9" y2="169.75" stroke="#8a8a8a" stroke-width="1.1"/>
<line x1="384.8" y1="167.95" x2="384.8" y2="171.55" stroke="#8a8a8a" stroke-width="0.9"/>
<line x1="414.9" y1="167.95" x2="414.9" y2="171.55" stroke="#8a8a8a" stroke-width="0.9"/>
<circle cx="399.8" cy="169.75" r="3.6" fill="#33983f"/>
<text x="336.7" y="186.65" font-size="9.2" text-anchor="end" fill="#231f20" font-weight="normal" font-style="italic" textLength="20.07" lengthAdjust="spacingAndGlyphs" stroke="#231f20" stroke-width="0.25">EZH2</text>
<line x1="367.5" y1="183.85" x2="406.0" y2="183.85" stroke="#8a8a8a" stroke-width="1.1"/>
<line x1="367.5" y1="182.04999999999998" x2="367.5" y2="185.65" stroke="#8a8a8a" stroke-width="0.9"/>
<line x1="406.0" y1="182.04999999999998" x2="406.0" y2="185.65" stroke="#8a8a8a" stroke-width="0.9"/>
<circle cx="386.3" cy="183.85" r="3.6" fill="#33983f"/>
<text x="336.7" y="200.85" font-size="9.2" text-anchor="end" fill="#231f20" font-weight="normal" font-style="italic" textLength="20.84" lengthAdjust="spacingAndGlyphs" stroke="#231f20" stroke-width="0.25">KRAS</text>
<line x1="348.5" y1="198.05" x2="412.2" y2="198.05" stroke="#8a8a8a" stroke-width="1.1"/>
<line x1="348.5" y1="196.25" x2="348.5" y2="199.85000000000002" stroke="#8a8a8a" stroke-width="0.9"/>
<line x1="412.2" y1="196.25" x2="412.2" y2="199.85000000000002" stroke="#8a8a8a" stroke-width="0.9"/>
<circle cx="380.5" cy="198.05" r="3.6" fill="#33983f"/>
<text x="336.7" y="215.85" font-size="9.2" text-anchor="end" fill="#231f20" font-weight="normal" font-style="italic" textLength="24.33" lengthAdjust="spacingAndGlyphs" stroke="#231f20" stroke-width="0.25">ASXL1</text>
<line x1="429.2" y1="213.05" x2="460.4" y2="213.05" stroke="#8a8a8a" stroke-width="1.1"/>
<line x1="429.2" y1="211.25" x2="429.2" y2="214.85000000000002" stroke="#8a8a8a" stroke-width="0.9"/>
<line x1="460.4" y1="211.25" x2="460.4" y2="214.85000000000002" stroke="#8a8a8a" stroke-width="0.9"/>
<circle cx="444.2" cy="213.05" r="3.6" fill="#c8126a"/>
<text x="420" y="253.9" font-size="9.4" text-anchor="middle" fill="#231f20" font-weight="normal" textLength="10.6" lengthAdjust="spacingAndGlyphs" stroke="#231f20" stroke-width="0.25">OR</text>
<text transform="translate(305.1 111.1) rotate(-90)" x="0" y="0" font-size="9.2" text-anchor="middle" fill="#231f20" stroke="#231f20" stroke-width="0.25" textLength="31.0" lengthAdjust="spacingAndGlyphs">Myeloid</text>
<text transform="translate(305.1 176.2) rotate(-90)" x="0" y="0" font-size="9.2" text-anchor="middle" fill="#231f20" stroke="#231f20" stroke-width="0.25" textLength="34.6" lengthAdjust="spacingAndGlyphs">Erythroid</text>
<text transform="translate(304.8 218.0) rotate(-90)" x="0" y="0" font-size="9.2" text-anchor="middle" fill="#231f20" stroke="#231f20" stroke-width="0.25" textLength="16.0" lengthAdjust="spacingAndGlyphs">Mgk</text>
<text transform="translate(284.9 147.4) rotate(-90)" x="0" y="0" font-size="9.2" text-anchor="middle" fill="#231f20" stroke="#231f20" stroke-width="0.25" textLength="32.5" lengthAdjust="spacingAndGlyphs">Dysplasia</text>
<text x="351.3" y="267.0" font-size="9.2" text-anchor="start" fill="#4aa659" font-weight="normal" textLength="41.8" lengthAdjust="spacingAndGlyphs" stroke="#4aa659" stroke-width="0.25">Enrichment</text>
<text x="351.3" y="277.0" font-size="9.2" text-anchor="start" fill="#4aa659" font-weight="normal" textLength="53.4" lengthAdjust="spacingAndGlyphs" stroke="#4aa659" stroke-width="0.25">in Dysplasia (-)</text>
<text x="432.2" y="267.0" font-size="9.2" text-anchor="start" fill="#d23b88" font-weight="normal" textLength="42.2" lengthAdjust="spacingAndGlyphs" stroke="#d23b88" stroke-width="0.25">Enrichment</text>
<text x="432.2" y="277.0" font-size="9.2" text-anchor="start" fill="#d23b88" font-weight="normal" textLength="56.6" lengthAdjust="spacingAndGlyphs" stroke="#d23b88" stroke-width="0.25">in Dysplasia (+)</text>
<line x1="350.0" y1="282.1" x2="409.4" y2="282.1" stroke="#58595b" stroke-width="1.3"/>
<path d="M344.6 282.1 L351 279.8 L351 284.4 Z" fill="#231f20"/>
<line x1="431.2" y1="282.0" x2="490.5" y2="282.0" stroke="#58595b" stroke-width="1.3"/>
<path d="M496.2 282.0 L489.8 279.7 L489.8 284.3 Z" fill="#231f20"/>
<text x="268.6" y="308.2" font-size="12.0" text-anchor="start" fill="#231f20" font-weight="bold" textLength="8.4" lengthAdjust="spacingAndGlyphs" stroke="#231f20" stroke-width="0.35">C</text>
<line x1="420" y1="306.7" x2="420" y2="534.0" stroke="#231f20" stroke-width="1.2"/>
<line x1="337.4" y1="534.0" x2="503.7" y2="534.0" stroke="#231f20" stroke-width="1.1"/>
<line x1="339.2" y1="534.0" x2="339.2" y2="536.6" stroke="#231f20" stroke-width="1.0"/>
<text x="339.2" y="547.6" font-size="9.2" text-anchor="middle" fill="#231f20" font-weight="normal" textLength="19.57" lengthAdjust="spacingAndGlyphs" stroke="#231f20" stroke-width="0.25">0.125</text>
<line x1="366.13" y1="534.0" x2="366.13" y2="536.6" stroke="#231f20" stroke-width="1.0"/>
<text x="366.13" y="547.6" font-size="9.2" text-anchor="middle" fill="#231f20" font-weight="normal" textLength="15.22" lengthAdjust="spacingAndGlyphs" stroke="#231f20" stroke-width="0.25">0.25</text>
<line x1="393.06" y1="534.0" x2="393.06" y2="536.6" stroke="#231f20" stroke-width="1.0"/>
<text x="393.06" y="547.6" font-size="9.2" text-anchor="middle" fill="#231f20" font-weight="normal" textLength="10.87" lengthAdjust="spacingAndGlyphs" stroke="#231f20" stroke-width="0.25">0.5</text>
<line x1="419.99" y1="534.0" x2="419.99" y2="536.6" stroke="#231f20" stroke-width="1.0"/>
<text x="419.99" y="547.6" font-size="9.2" text-anchor="middle" fill="#231f20" font-weight="normal" textLength="4.35" lengthAdjust="spacingAndGlyphs" stroke="#231f20" stroke-width="0.25">1</text>
<line x1="446.92" y1="534.0" x2="446.92" y2="536.6" stroke="#231f20" stroke-width="1.0"/>
<text x="446.92" y="547.6" font-size="9.2" text-anchor="middle" fill="#231f20" font-weight="normal" textLength="4.35" lengthAdjust="spacingAndGlyphs" stroke="#231f20" stroke-width="0.25">2</text>
<line x1="473.85" y1="534.0" x2="473.85" y2="536.6" stroke="#231f20" stroke-width="1.0"/>
<text x="473.85" y="547.6" font-size="9.2" text-anchor="middle" fill="#231f20" font-weight="normal" textLength="4.35" lengthAdjust="spacingAndGlyphs" stroke="#231f20" stroke-width="0.25">4</text>
<line x1="500.78" y1="534.0" x2="500.78" y2="536.6" stroke="#231f20" stroke-width="1.0"/>
<text x="500.78" y="547.6" font-size="9.2" text-anchor="middle" fill="#231f20" font-weight="normal" textLength="4.35" lengthAdjust="spacingAndGlyphs" stroke="#231f20" stroke-width="0.25">8</text>
<line x1="296.0" y1="428.9" x2="500.5" y2="428.9" stroke="#4d4d4f" stroke-width="1.0" stroke-dasharray="3 2.3"/>
<line x1="296.0" y1="461.9" x2="500.5" y2="461.9" stroke="#4d4d4f" stroke-width="1.0" stroke-dasharray="3 2.3"/>
<text x="336.7" y="326.25" font-size="9.2" text-anchor="end" fill="#231f20" font-weight="normal" font-style="italic" textLength="19.24" lengthAdjust="spacingAndGlyphs" stroke="#231f20" stroke-width="0.25">IDH1</text>
<line x1="446.6" y1="323.45" x2="500.3" y2="323.45" stroke="#8a8a8a" stroke-width="1.1"/>
<line x1="446.6" y1="321.65" x2="446.6" y2="325.25" stroke="#8a8a8a" stroke-width="0.9"/>
<line x1="500.3" y1="321.65" x2="500.3" y2="325.25" stroke="#8a8a8a" stroke-width="0.9"/>
<circle cx="477.1" cy="323.45" r="3.6" fill="#c8126a"/>
<text x="336.7" y="342.55" font-size="9.2" text-anchor="end" fill="#231f20" font-weight="normal" font-style="italic" textLength="19.21" lengthAdjust="spacingAndGlyphs" stroke="#231f20" stroke-width="0.25">TET2</text>
<line x1="390.6" y1="339.75" x2="414.1" y2="339.75" stroke="#8a8a8a" stroke-width="1.1"/>
<line x1="390.6" y1="337.95" x2="390.6" y2="341.55" stroke="#8a8a8a" stroke-width="0.9"/>
<line x1="414.1" y1="337.95" x2="414.1" y2="341.55" stroke="#8a8a8a" stroke-width="0.9"/>
<circle cx="402.0" cy="339.75" r="3.6" fill="#33983f"/>
<text x="336.7" y="358.95" font-size="9.2" text-anchor="end" fill="#231f20" font-weight="normal" font-style="italic" textLength="24.33" lengthAdjust="spacingAndGlyphs" stroke="#231f20" stroke-width="0.25">ASXL1</text>
<line x1="388.8" y1="356.15" x2="414.1" y2="356.15" stroke="#8a8a8a" stroke-width="1.1"/>
<line x1="388.8" y1="354.34999999999997" x2="388.8" y2="357.95" stroke="#8a8a8a" stroke-width="0.9"/>
<line x1="414.1" y1="354.34999999999997" x2="414.1" y2="357.95" stroke="#8a8a8a" stroke-width="0.9"/>
<circle cx="401.6" cy="356.15" r="3.6" fill="#33983f"/>
<text x="336.7" y="375.05" font-size="9.2" text-anchor="end" fill="#231f20" font-weight="normal" font-style="italic" textLength="25.17" lengthAdjust="spacingAndGlyphs" stroke="#231f20" stroke-width="0.25">SRSF2</text>
<line x1="376.0" y1="372.25" x2="407.2" y2="372.25" stroke="#8a8a8a" stroke-width="1.1"/>
<line x1="376.0" y1="370.45" x2="376.0" y2="374.05" stroke="#8a8a8a" stroke-width="0.9"/>
<line x1="407.2" y1="370.45" x2="407.2" y2="374.05" stroke="#8a8a8a" stroke-width="0.9"/>
<circle cx="392.3" cy="372.25" r="3.6" fill="#33983f"/>
<text x="336.7" y="391.35" font-size="9.2" text-anchor="end" fill="#231f20" font-weight="normal" font-style="italic" textLength="23.9" lengthAdjust="spacingAndGlyphs" stroke="#231f20" stroke-width="0.25">SF3B1</text>
<line x1="375.7" y1="388.55" x2="405.1" y2="388.55" stroke="#8a8a8a" stroke-width="1.1"/>
<line x1="375.7" y1="386.75" x2="375.7" y2="390.35" stroke="#8a8a8a" stroke-width="0.9"/>
<line x1="405.1" y1="386.75" x2="405.1" y2="390.35" stroke="#8a8a8a" stroke-width="0.9"/>
<circle cx="390.9" cy="388.55" r="3.6" fill="#33983f"/>
<text x="336.7" y="407.75" font-size="9.2" text-anchor="end" fill="#231f20" font-weight="normal" font-style="italic" textLength="21.77" lengthAdjust="spacingAndGlyphs" stroke="#231f20" stroke-width="0.25">NRAS</text>
<line x1="358.4" y1="404.95" x2="408.5" y2="404.95" stroke="#8a8a8a" stroke-width="1.1"/>
<line x1="358.4" y1="403.15" x2="358.4" y2="406.75" stroke="#8a8a8a" stroke-width="0.9"/>
<line x1="408.5" y1="403.15" x2="408.5" y2="406.75" stroke="#8a8a8a" stroke-width="0.9"/>
<circle cx="384.3" cy="404.95" r="3.6" fill="#33983f"/>
<text x="336.7" y="423.75" font-size="9.2" text-anchor="end" fill="#231f20" font-weight="normal" font-style="italic" textLength="15.99" lengthAdjust="spacingAndGlyphs" stroke="#231f20" stroke-width="0.25">CBL</text>
<line x1="350.7" y1="420.95" x2="404.4" y2="420.95" stroke="#8a8a8a" stroke-width="1.1"/>
<line x1="350.7" y1="419.15" x2="350.7" y2="422.75" stroke="#8a8a8a" stroke-width="0.9"/>
<line x1="404.4" y1="419.15" x2="404.4" y2="422.75" stroke="#8a8a8a" stroke-width="0.9"/>
<circle cx="379.0" cy="420.95" r="3.6" fill="#33983f"/>
<text x="336.7" y="439.85" font-size="9.2" text-anchor="end" fill="#231f20" font-weight="normal" font-style="italic" textLength="19.64" lengthAdjust="spacingAndGlyphs" stroke="#231f20" stroke-width="0.25">ETV6</text>
<line x1="432.0" y1="437.05" x2="496.8" y2="437.05" stroke="#8a8a8a" stroke-width="1.1"/>
<line x1="432.0" y1="435.25" x2="432.0" y2="438.85" stroke="#8a8a8a" stroke-width="0.9"/>
<line x1="496.8" y1="435.25" x2="496.8" y2="438.85" stroke="#8a8a8a" stroke-width="0.9"/>
<circle cx="461.5" cy="437.05" r="3.6" fill="#c8126a"/>
<text x="336.7" y="456.25" font-size="9.2" text-anchor="end" fill="#231f20" font-weight="normal" font-style="italic" textLength="19.21" lengthAdjust="spacingAndGlyphs" stroke="#231f20" stroke-width="0.25">TET2</text>
<line x1="392.3" y1="453.45" x2="415.8" y2="453.45" stroke="#8a8a8a" stroke-width="1.1"/>
<line x1="392.3" y1="451.65" x2="392.3" y2="455.25" stroke="#8a8a8a" stroke-width="0.9"/>
<line x1="415.8" y1="451.65" x2="415.8" y2="455.25" stroke="#8a8a8a" stroke-width="0.9"/>
<circle cx="403.7" cy="453.45" r="3.6" fill="#33983f"/>
<text x="336.7" y="472.45" font-size="9.2" text-anchor="end" fill="#231f20" font-weight="normal" font-style="italic" textLength="18.79" lengthAdjust="spacingAndGlyphs" stroke="#231f20" stroke-width="0.25">TP53</text>
<line x1="433.8" y1="469.65" x2="471.9" y2="469.65" stroke="#8a8a8a" stroke-width="1.1"/>
<line x1="433.8" y1="467.84999999999997" x2="433.8" y2="471.45" stroke="#8a8a8a" stroke-width="0.9"/>
<line x1="471.9" y1="467.84999999999997" x2="471.9" y2="471.45" stroke="#8a8a8a" stroke-width="0.9"/>
<circle cx="452.1" cy="469.65" r="3.6" fill="#c8126a"/>
<text x="336.7" y="488.35" font-size="9.2" text-anchor="end" fill="#231f20" font-weight="normal" font-style="italic" textLength="20.39" lengthAdjust="spacingAndGlyphs" stroke="#231f20" stroke-width="0.25">JAK2</text>
<line x1="357.7" y1="485.55" x2="407.2" y2="485.55" stroke="#8a8a8a" stroke-width="1.1"/>
<line x1="357.7" y1="483.75" x2="357.7" y2="487.35" stroke="#8a8a8a" stroke-width="0.9"/>
<line x1="407.2" y1="483.75" x2="407.2" y2="487.35" stroke="#8a8a8a" stroke-width="0.9"/>
<circle cx="383.0" cy="485.55" r="3.6" fill="#33983f"/>
<text x="336.7" y="504.95" font-size="9.2" text-anchor="end" fill="#231f20" font-weight="normal" font-style="italic" textLength="23.9" lengthAdjust="spacingAndGlyphs" stroke="#231f20" stroke-width="0.25">SF3B1</text>
<line x1="350.8" y1="502.15" x2="380.9" y2="502.15" stroke="#8a8a8a" stroke-width="1.1"/>
<line x1="350.8" y1="500.34999999999997" x2="350.8" y2="503.95" stroke="#8a8a8a" stroke-width="0.9"/>
<line x1="380.9" y1="500.34999999999997" x2="380.9" y2="503.95" stroke="#8a8a8a" stroke-width="0.9"/>
<circle cx="366.0" cy="502.15" r="3.6" fill="#33983f"/>
<text x="336.7" y="521.25" font-size="9.2" text-anchor="end" fill="#231f20" font-weight="normal" font-style="italic" textLength="32.43" lengthAdjust="spacingAndGlyphs" stroke="#231f20" stroke-width="0.25">BCORL1</text>
<line x1="340.4" y1="518.45" x2="390.6" y2="518.45" stroke="#8a8a8a" stroke-width="1.1"/>
<line x1="340.4" y1="516.6500000000001" x2="340.4" y2="520.25" stroke="#8a8a8a" stroke-width="0.9"/>
<line x1="390.6" y1="516.6500000000001" x2="390.6" y2="520.25" stroke="#8a8a8a" stroke-width="0.9"/>
<circle cx="360.4" cy="518.45" r="3.6" fill="#33983f"/>
<text transform="translate(299.4 371.9) rotate(-90)" x="0" y="0" font-size="9.2" text-anchor="middle" fill="#231f20" stroke="#231f20" stroke-width="0.25" textLength="45.5" lengthAdjust="spacingAndGlyphs">Neutropenia</text>
<text transform="translate(299.4 446.8) rotate(-90)" x="0" y="0" font-size="9.2" text-anchor="middle" fill="#231f20" stroke="#231f20" stroke-width="0.25" textLength="23.8" lengthAdjust="spacingAndGlyphs">Anemia</text>
<text transform="translate(299.4 501.8) rotate(-90)" x="0" y="0" font-size="9.2" text-anchor="middle" fill="#231f20" stroke="#231f20" stroke-width="0.25" textLength="69.5" lengthAdjust="spacingAndGlyphs">Thrombocytopenia</text>
<text transform="translate(285.6 420.9) rotate(-90)" x="0" y="0" font-size="9.2" text-anchor="middle" fill="#231f20" stroke="#231f20" stroke-width="0.25" textLength="34.8" lengthAdjust="spacingAndGlyphs">Cytopenia</text>
<text x="352.8" y="560.3" font-size="9.2" text-anchor="start" fill="#4aa659" font-weight="normal" textLength="41.8" lengthAdjust="spacingAndGlyphs" stroke="#4aa659" stroke-width="0.25">Enrichment</text>
<text x="352.8" y="570.3" font-size="9.2" text-anchor="start" fill="#4aa659" font-weight="normal" textLength="56.0" lengthAdjust="spacingAndGlyphs" stroke="#4aa659" stroke-width="0.25">in Cytopenia (-)</text>
<text x="434.1" y="560.3" font-size="9.2" text-anchor="start" fill="#d23b88" font-weight="normal" textLength="42.2" lengthAdjust="spacingAndGlyphs" stroke="#d23b88" stroke-width="0.25">Enrichment</text>
<text x="434.1" y="570.3" font-size="9.2" text-anchor="start" fill="#d23b88" font-weight="normal" textLength="59.6" lengthAdjust="spacingAndGlyphs" stroke="#d23b88" stroke-width="0.25">in Cytopenia (+)</text>
<line x1="353.0" y1="575.4" x2="412.3" y2="575.4" stroke="#231f20" stroke-width="1.3"/>
<path d="M347.5 575.4 L354 573.1 L354 577.7 Z" fill="#231f20"/>
<line x1="434.4" y1="575.4" x2="493.0" y2="575.4" stroke="#231f20" stroke-width="1.3"/>
<path d="M499.0 575.4 L492.5 573.1 L492.5 577.7 Z" fill="#231f20"/>
<rect x="0.5" y="0.5" width="519" height="632" fill="none" stroke="#000" stroke-width="1"/>
</svg></body></html>
